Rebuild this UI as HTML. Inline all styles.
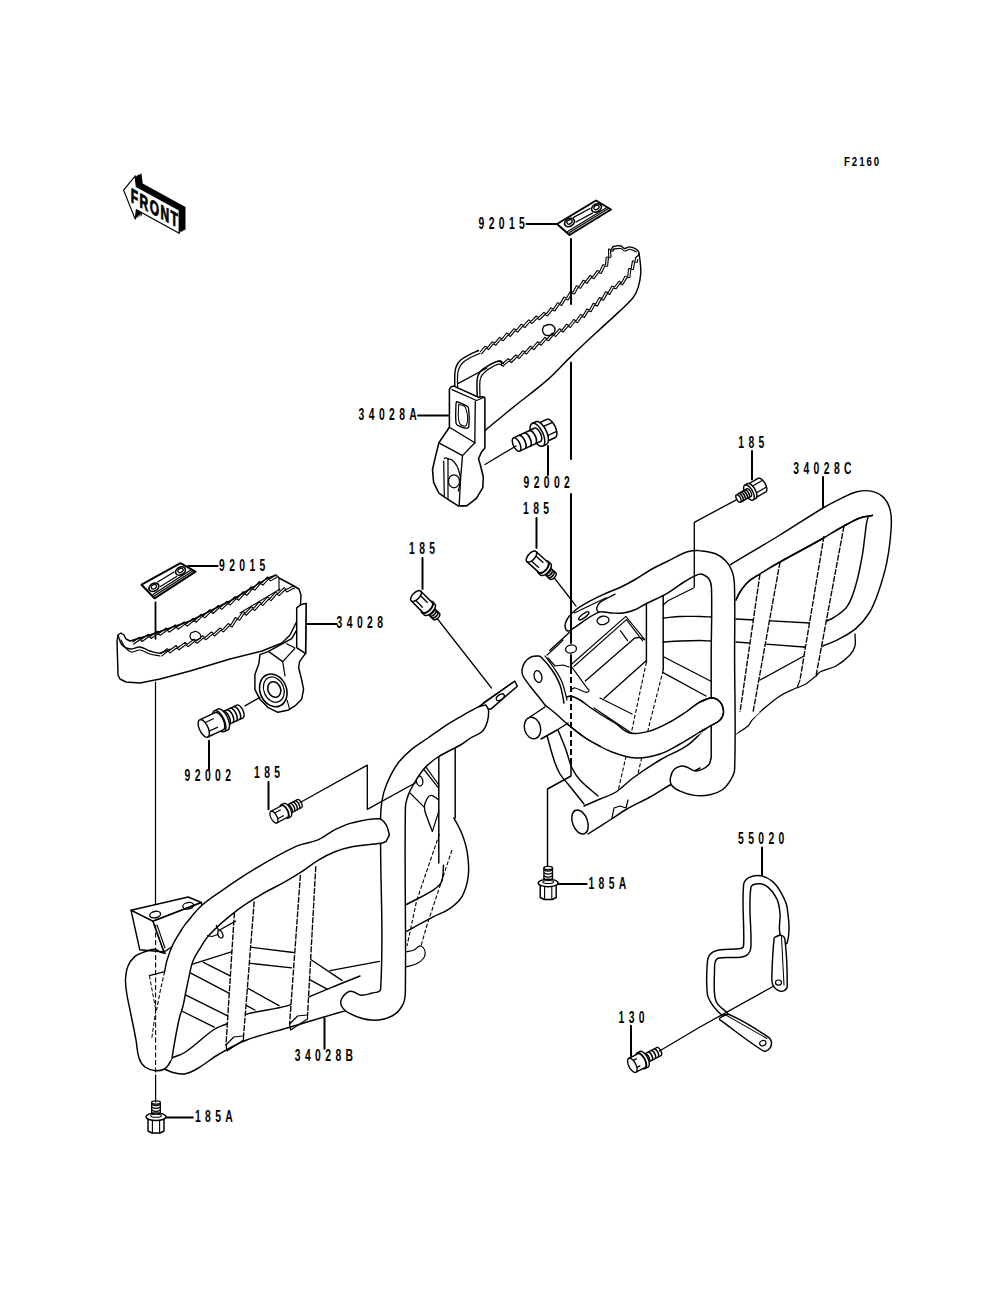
<!DOCTYPE html>
<html><head><meta charset="utf-8"><title>Parts diagram</title>
<style>
html,body{margin:0;padding:0;background:#fff;}
body{width:1000px;height:1308px;overflow:hidden;}
svg{display:block;}
.t{font-family:"Liberation Sans",sans-serif;font-weight:bold;font-size:15.6px;fill:#000;}
.s{font-family:"Liberation Sans",sans-serif;font-weight:bold;font-size:12.4px;fill:#000;}
</style></head>
<body>
<svg width="1000" height="1308" viewBox="0 0 1000 1308">
<rect width="1000" height="1308" fill="#fff"/>
<g id="front">
<polygon points="129.9,187.1 141.4,173.1 142.7,183.5 185.5,207 185.5,230.2 142.7,206.7 141.6,216.4" fill="#000"/>
<polygon points="128.6,187.7 140.1,173.7 141.4,184.1 184.2,207.6 184.2,230.8 141.4,207.3 140.3,217" fill="#000"/>
<polygon points="127.4,188.3 138.9,174.3 140.2,184.7 183,208.2 183,231.4 140.2,207.9 139.1,217.6" fill="#000"/>
<polygon points="126.1,188.9 137.6,174.9 138.9,185.3 181.7,208.8 181.7,232 138.9,208.5 137.8,218.2" fill="#000"/>
<polygon points="124.9,189.5 136.4,175.5 137.7,185.9 180.5,209.4 180.5,232.6 137.7,209.1 136.6,218.8" fill="#000"/>
<polygon points="123.6,190.1 135.1,176.1 136.4,186.5 179.2,210 179.2,233.2 136.4,209.7 135.3,219.4" fill="#fff" stroke="#000" stroke-width="1.2"/>
<text transform="translate(130.8,201.8) skewY(29) scale(0.6,1)" font-family="Liberation Sans, sans-serif" font-weight="bold" font-size="20" letter-spacing="2.4" fill="#000" stroke="#000" stroke-width="0.9">FRONT</text>
</g>
<path d="M480.1,352 L484.9,346.3 L487.4,347.6 L492.2,341.8 L494.6,343.1 L499.5,337.4 L501.9,338.8 L506.7,333 L509.2,334.4 L514,328.7 L516.5,330 L521.3,324.2 L523.7,325.5 L528.6,319.9 L531,321.3 L536.3,316 L538.5,317.6 L543.9,312.4 L546.3,313.8 L550.9,307.9 L553.5,309 L557.5,302.7 L560.1,303.6 L563.9,297.1 L566.6,298 L570.2,291.5 L572.9,292.3 L576.4,285.7 L579.1,286.5 L583.1,280.2 L585.6,281.3 L590.2,275.4 L592.7,276.7 L597.1,270.6 L599.7,271.6 L602.8,264.8 L605.6,265 L606.1,257.6 L608.7,256.7 L608.5,249 L611.2,249.5 L612.6,246.8" fill="none" stroke="#000" stroke-width="1.1" stroke-linejoin="round"/>
<path d="M481.4,354.1 L486.2,348.3 L488.6,349.6 L493.4,343.9 L495.9,345.2 L500.7,339.5 L503.1,340.8 L508,335.1 L510.4,336.4 L515.3,330.7 L517.7,332.1 L522.5,326.3 L525,327.6 L529.8,322 L532.2,323.4 L537.3,318.2 L539.5,319.8 L545,314.5 L547.5,315.9 L552.3,309.9 L554.9,310.9 L559.1,304.5 L561.7,305.4 L565.5,299 L568.1,299.9 L571.9,293.2 L574.5,294 L578,287.5 L580.7,288.3 L584.5,282.1 L587,283.3 L591.5,277.4 L594,278.7 L598.6,272.5 L601.2,273.4 L604.7,266.2 L607.6,266.2 L608.4,258.1 L611,257.1 L610.5,250.4 L612.8,251.3 L614.2,248.6" fill="none" stroke="#000" stroke-width="1.1" stroke-linejoin="round"/>
<path d="M502.6,363.5 L508.2,358.6 L510.4,360.3 L515.7,355 L518.1,356.4 L523,350.7 L525.4,351.9 L530.2,346.2 L532.7,347.5 L537.5,341.8 L539.9,343.1 L544.8,337.4 L547.2,338.8 L552.1,333.1 L554.5,334.4 L559.4,328.8 L561.9,330.1 L566.6,324.2 L569.1,325.5 L573.6,319.5 L576.1,320.7 L580.4,314.5 L583,315.5 L586.8,309.1 L589.5,310 L593.1,303.4 L595.7,304.1 L599.3,297.6 L602,298.4 L605.5,291.8 L608.2,292.6 L611.9,286.1 L614.5,287 L619.1,281.1 L621.4,282.7 L625,276.3 L627.8,276.3 L628.5,268.8 L631.2,268.4 L632.4,261.1 L635.2,261 L635.6,257.9" fill="none" stroke="#000" stroke-width="1.1" stroke-linejoin="round"/>
<path d="M503.5,365.7 L509.1,360.9 L511.4,362.5 L516.9,357.1 L519.3,358.5 L524.3,352.7 L526.7,354 L531.5,348.2 L533.9,349.6 L538.7,343.8 L541.2,345.2 L546,339.5 L548.5,340.8 L553.3,335.1 L555.8,336.5 L560.7,330.8 L563.1,332.1 L567.9,326.3 L570.4,327.5 L575,321.5 L577.5,322.7 L581.9,316.4 L584.5,317.4 L588.4,310.9 L591.1,311.7 L594.7,305.1 L597.4,305.9 L600.9,299.4 L603.6,300.2 L607.2,293.6 L609.8,294.4 L613.4,287.9 L616,288.8 L620.1,283.3 L622.4,284.9 L627.1,277.6 L629.9,277.5 L630.7,269.7 L633.4,269.4 L634.5,262.3 L637.2,262.3 L637.7,259.1" fill="none" stroke="#000" stroke-width="1.1" stroke-linejoin="round"/>
<path d="M612.6,246.8 C614.2,246.4 615.4,246 617,245.8 C618.5,245.7 619.7,245.5 621.1,246 C622.5,246.5 623,248.4 624.5,248.5 C626.4,248.7 627.7,246.7 629.6,246.8 C632.2,247 634.3,247.9 636.4,249.4 C637.8,250.4 639.2,251.8 639,253.6 C638.8,255.6 636.8,256.4 635.6,257.9" fill="none" stroke="#000" stroke-width="1.34" stroke-linecap="round" stroke-linejoin="round"/>
<path d="M612.6,249.3 C615.7,249 618.1,248.1 621.1,248.5 C622.6,248.7 623,250.9 624.5,251 C626.4,251.2 627.7,249.2 629.6,249.3 C632.2,249.5 634,251 636.4,251.9" fill="none" stroke="#000" stroke-width="1.12" stroke-linecap="round" stroke-linejoin="round"/>
<path d="M639,253.6 C639.5,257 640,259.6 640.3,263 C640.6,266.9 641.1,270.1 640.7,274 C640.3,279 639.6,282.9 638.1,287.6 C636.8,291.5 635.5,294.6 633,297.8 C628.7,303.2 624.4,306.6 619.4,311.4 C612.2,318.3 606.3,323.3 599,330.1 C589.2,339.2 581.5,346.3 571.8,355.6 C563.1,364 557.1,371.4 548,379.4 C536.2,389.8 526.2,396.7 514,406.6 C503.5,415.1 495.5,421.8 485.1,430.4" fill="none" stroke="#000" stroke-width="1.46" stroke-linecap="round" stroke-linejoin="round"/>
<path d="M478.5,350.5 C475.3,352 472.6,353 469.5,354.7 C466.1,356.5 463.3,357.7 460.4,360.3 C458.4,362.1 457.3,364.1 456.2,366.6 C455.2,369 455,371 454.8,373.6 C454.5,378.4 454.8,382.2 454.8,387" fill="none" stroke="#000" stroke-width="1.46" stroke-linecap="round" stroke-linejoin="round"/>
<path d="M480,353.2 C476.8,354.7 474.1,355.6 471,357.3 C468,358.9 465.5,360.2 463,362.5 C461.1,364.3 460,366.1 459,368.5 C458.1,370.7 457.8,372.6 457.6,375 C457.3,379.3 457.6,382.7 457.6,387" fill="none" stroke="#000" stroke-width="1.23" stroke-linecap="round" stroke-linejoin="round"/>
<path d="M503.5,363.5 C501.6,362.7 500.2,360.8 498.2,361.2 C493.8,362 490.8,364.1 487,366.4 C484.2,368 482,369.4 480,372 C478.3,374.2 477.5,376.4 477.2,379.2 C476.5,385.6 477.2,390.6 477.2,397" fill="none" stroke="#000" stroke-width="1.46" stroke-linecap="round" stroke-linejoin="round"/>
<path d="M503.5,366.3 C501.7,365.5 500.4,363.8 498.5,364.2 C494.5,365 491.9,367.1 488.5,369.3 C486.1,370.8 484.3,372.2 482.6,374.4 C481.2,376.3 480.3,378.1 480,380.5 C479.3,386.4 480,391.1 480,397" fill="none" stroke="#000" stroke-width="1.23" stroke-linecap="round" stroke-linejoin="round"/>
<path d="M498.2,361.2 C499,361.1 499.7,360.5 500.5,360.8 C501.3,361.1 501.8,361.7 502,362.5 C502.2,363.2 501.7,363.8 501.5,364.5" fill="none" stroke="#000" stroke-width="1.23" stroke-linecap="round" stroke-linejoin="round"/>
<path d="M458.3,383.4 L487,368" fill="none" stroke="#000" stroke-width="1.23" stroke-linecap="round" stroke-linejoin="round"/>
<path d="M544,326 C545.8,325.5 547.1,324.5 549,324.5 C550.7,324.5 552.2,324.8 553.5,326 C554.6,327 555.1,328.5 555,330 C554.9,331.6 554.2,332.9 553,334 C551.9,335 550.5,335.4 549,335.5 C547.3,335.6 545.8,335.6 544.5,334.5 C543.1,333.4 542.6,331.8 542.5,330 C542.4,328.5 543.5,327.4 544,326" fill="none" stroke="#000" stroke-width="1.34" stroke-linecap="round" stroke-linejoin="round"/>
<path d="M450.7,387.1 L453.9,386.1 L478.5,397.3 L483.3,396.8 L484.9,397.8 L484.9,448.1 L481.5,452 L478.5,458.8 L480.7,466.3 L483.3,477 L482.8,487.7 L476.4,498.4 L466.7,505.9 L458.2,505.9 L446.4,498.4 L438.9,493.1 L433.6,482.4 L432.5,469.5 L435.7,455.6 L438.9,442.8 L449.4,427.3 L449.4,389.3 Z" fill="#fff" stroke="#000" stroke-width="1.57" stroke-linejoin="round"/>
<path d="M452,389.6 L476.5,400.5 L483,397.8" fill="none" stroke="#000" stroke-width="1.23" stroke-linecap="round" stroke-linejoin="round"/>
<path d="M475.3,401.5 L474.8,442.8" fill="none" stroke="#000" stroke-width="1.34" stroke-linecap="round" stroke-linejoin="round"/>
<path d="M449.4,427.3 L474.8,442.8" fill="none" stroke="#000" stroke-width="1.34" stroke-linecap="round" stroke-linejoin="round"/>
<path d="M438.9,442.8 L462.5,455.6 L474.8,442.8" fill="none" stroke="#000" stroke-width="1.34" stroke-linecap="round" stroke-linejoin="round"/>
<path d="M462.5,455.6 L460.5,480 L459.2,505" fill="none" stroke="#000" stroke-width="1.34" stroke-linecap="round" stroke-linejoin="round"/>
<path d="M456.6,401.6 C460,403 462.8,403.9 466,405.6 C467.1,406.2 468.3,406.8 468.5,408 C469.4,414.4 469.5,419.5 468.9,426 C468.8,427.2 467.7,428.3 466.5,428.3 C463.4,428.2 461,427.1 458.2,425.7 C457.1,425.1 456.1,424.2 456,423 C455.3,416.2 455.8,410.8 456,404 C456,403.1 456.4,402.5 456.6,401.6" fill="none" stroke="#000" stroke-width="1.34" stroke-linecap="round" stroke-linejoin="round"/>
<path d="M458.6,404.2 C461.1,405.4 464.5,404.9 465.5,407.5 C467.7,413.4 468.8,419.1 466.5,425 C465.6,427.4 460.4,425.5 459.5,423 C457.1,416.7 458.9,411 458.6,404.2" fill="none" stroke="#000" stroke-width="1.01" stroke-linecap="round" stroke-linejoin="round"/>
<path d="M443.7,461 L444.3,496.3" fill="none" stroke="#000" stroke-width="1.23" stroke-linecap="round" stroke-linejoin="round"/>
<path d="M448,458.8 C449.4,459.2 450.8,459 452,460 C454.3,461.9 455.8,463.7 457.1,466.3 C458.9,469.9 459.7,473 460.3,477 C460.7,479.9 460.2,482.1 459.8,485 C459.5,487.2 458.8,488.8 458.2,491" fill="none" stroke="#000" stroke-width="1.23" stroke-linecap="round" stroke-linejoin="round"/>
<path d="M448,458.8 L448,498.4" fill="none" stroke="#000" stroke-width="1.23" stroke-linecap="round" stroke-linejoin="round"/>
<path d="M444.3,458.5 C444.9,458.2 445.3,457.7 446,457.8 C446.8,457.9 447.3,458.4 448,458.8" fill="none" stroke="#000" stroke-width="1.23" stroke-linecap="round" stroke-linejoin="round"/>
<ellipse cx="454" cy="481.3" rx="5.5" ry="6.5" transform="rotate(0 454 481.3)" fill="none" stroke="#000" stroke-width="1.23"/>
<path d="M557,224 L596,200.5 L611,209.5 L569.5,235 Z" fill="#fff" stroke="#000" stroke-width="2.02" stroke-linejoin="round"/>
<path d="M569.1,232.8 L608.1,208.8" fill="none" stroke="#000" stroke-width="1.23" stroke-linecap="round" stroke-linejoin="round"/>
<path d="M567.7,231.6 L606.8,207.6" fill="none" stroke="#000" stroke-width="1.23" stroke-linecap="round" stroke-linejoin="round"/>
<ellipse cx="569.5" cy="222.5" rx="5.2" ry="3.8" transform="rotate(-30 569.5 222.5)" fill="#fff" stroke="#000" stroke-width="1.68"/>
<ellipse cx="569.5" cy="221.9" rx="2.8" ry="2" transform="rotate(-30 569.5 221.9)" fill="none" stroke="#000" stroke-width="1.23"/>
<ellipse cx="596.5" cy="208" rx="5.2" ry="3.8" transform="rotate(-30 596.5 208)" fill="#fff" stroke="#000" stroke-width="1.68"/>
<ellipse cx="596.5" cy="207.4" rx="2.8" ry="2" transform="rotate(-30 596.5 207.4)" fill="none" stroke="#000" stroke-width="1.23"/>
<path d="M573.6,217.4 L590,208.5" fill="none" stroke="#000" stroke-width="1.23" stroke-linecap="round" stroke-linejoin="round"/>
<path d="M576,222 L592.4,213.1" fill="none" stroke="#000" stroke-width="1.23" stroke-linecap="round" stroke-linejoin="round"/>
<path d="M526.5,224 L557,224" fill="none" stroke="#000" stroke-width="2" stroke-linecap="round" stroke-linejoin="round"/>
<path d="M571,239 L571,304" fill="none" stroke="#000" stroke-width="2" stroke-linecap="round" stroke-linejoin="round"/>
<path d="M571,362.4 L571,459" fill="none" stroke="#000" stroke-width="2" stroke-linecap="round" stroke-linejoin="round"/>
<path d="M418,415.5 L448,415.5" fill="none" stroke="#000" stroke-width="2" stroke-linecap="round" stroke-linejoin="round"/>
<path d="M555.1,426.5 L555.8,428.1 L556.3,429.8 L556.7,431.3 L556.9,432.8 L556.9,434.2 L556.7,435.3 L556.4,436.3 L555.9,437 L555.3,437.5 L554.5,437.7 L553.6,437.6 L552.7,437.2 L551.7,436.6 L550.6,435.7 L549.6,434.6 L548.7,433.3 L547.8,431.9 L547,430.3 L546.3,428.7 L545.8,427.1 L545.4,425.6 L545.2,424.1 L545.2,422.7 L545.3,421.5 L545.7,420.6 L546.2,419.8 L546.8,419.4 L547.6,419.2 L548.5,419.3 L549.4,419.6 L550.4,420.3 L551.4,421.2 L552.5,422.3 L553.4,423.6 L554.3,425 L555.1,426.5 Z" fill="#fff" stroke="#000" stroke-width="1.5"/>
<path d="M545.3,442.2 L555.3,437.5 L546.8,419.4 L536.8,424 Z" fill="#fff" stroke="none"/>
<path d="M545.3,442.2 L555.3,437.5" fill="none" stroke="#000" stroke-width="1.5"/>
<path d="M546.8,419.4 L536.8,424" fill="none" stroke="#000" stroke-width="1.5"/>
<path d="M546.7,436 L556.7,431.3" fill="none" stroke="#000" stroke-width="1.35"/>
<path d="M542.5,426.9 L552.5,422.3" fill="none" stroke="#000" stroke-width="1.35"/>
<path d="M545.1,431.2 L545.8,432.8 L546.3,434.4 L546.7,436 L546.9,437.5 L546.9,438.8 L546.8,440 L546.4,441 L545.9,441.7 L545.3,442.2 L544.5,442.3 L543.6,442.3 L542.7,441.9 L541.7,441.3 L540.7,440.4 L539.7,439.3 L538.7,438 L537.8,436.5 L537,435 L536.3,433.4 L535.8,431.8 L535.4,430.2 L535.2,428.7 L535.2,427.4 L535.4,426.2 L535.7,425.2 L536.2,424.5 L536.8,424 L537.6,423.8 L538.5,423.9 L539.4,424.3 L540.5,424.9 L541.5,425.8 L542.5,426.9 L543.5,428.2 L544.4,429.6 L545.1,431.2 Z" fill="#fff" stroke="#000" stroke-width="1.5"/>
<path d="M546.2,430.7 L547,432.7 L547.7,434.7 L548.1,436.7 L548.4,438.6 L548.4,440.2 L548.2,441.7 L547.8,442.9 L547.2,443.8 L546.4,444.4 L545.4,444.7 L544.3,444.5 L543.1,444.1 L541.8,443.3 L540.6,442.2 L539.3,440.8 L538.1,439.2 L537,437.4 L536,435.5 L535.1,433.5 L534.5,431.4 L534,429.5 L533.8,427.6 L533.7,425.9 L533.9,424.5 L534.4,423.3 L535,422.3 L535.8,421.8 L536.8,421.5 L537.8,421.6 L539,422.1 L540.3,422.9 L541.6,424 L542.8,425.4 L544.1,427 L545.2,428.8 L546.2,430.7 Z" fill="#fff" stroke="#000" stroke-width="1.5"/>
<path d="M542.7,446.1 L546.4,444.4 L535.8,421.8 L532.2,423.5 Z" fill="#fff" stroke="none"/>
<path d="M542.7,446.1 L546.4,444.4" fill="none" stroke="#000" stroke-width="1.5"/>
<path d="M535.8,421.8 L532.2,423.5" fill="none" stroke="#000" stroke-width="1.5"/>
<path d="M542.5,432.4 L543.4,434.4 L544,436.4 L544.5,438.4 L544.7,440.2 L544.8,441.9 L544.6,443.4 L544.2,444.6 L543.5,445.5 L542.7,446.1 L541.8,446.3 L540.7,446.2 L539.5,445.8 L538.2,445 L536.9,443.9 L535.7,442.5 L534.5,440.9 L533.3,439.1 L532.3,437.2 L531.5,435.2 L530.8,433.1 L530.4,431.2 L530.1,429.3 L530.1,427.6 L530.3,426.2 L530.7,424.9 L531.4,424 L532.2,423.5 L533.1,423.2 L534.2,423.3 L535.4,423.8 L536.7,424.6 L538,425.7 L539.2,427.1 L540.4,428.7 L541.5,430.5 L542.5,432.4 Z" fill="#fff" stroke="#000" stroke-width="1.5"/>
<path d="M540.4,433.4 L540.9,434.6 L541.3,435.7 L541.6,436.9 L541.7,438 L541.7,439 L541.6,439.8 L541.4,440.5 L541,441.1 L540.5,441.4 L540,441.5 L539.3,441.5 L538.6,441.2 L537.9,440.7 L537.1,440.1 L536.4,439.3 L535.7,438.3 L535,437.3 L534.5,436.2 L534,435 L533.6,433.8 L533.3,432.7 L533.2,431.6 L533.2,430.6 L533.3,429.7 L533.5,429 L533.9,428.5 L534.4,428.2 L534.9,428 L535.6,428.1 L536.3,428.4 L537,428.8 L537.7,429.5 L538.5,430.3 L539.2,431.2 L539.8,432.3 L540.4,433.4 Z" fill="#fff" stroke="#000" stroke-width="1.5"/>
<path d="M519.7,451.1 L540.5,441.4 L534.4,428.2 L513.5,437.9 Z" fill="#fff" stroke="none"/>
<path d="M519.7,451.1 L540.5,441.4" fill="none" stroke="#000" stroke-width="1.5"/>
<path d="M534.4,428.2 L513.5,437.9" fill="none" stroke="#000" stroke-width="1.5"/>
<path d="M518.7,435.5 L519.4,435.3 L520.1,435.4 L520.9,435.8 L521.7,436.4 L522.6,437.2 L523.4,438.3 L524.1,439.4 L524.8,440.7 L525.3,442 L525.7,443.3 L526,444.6 L526.1,445.8 L526,446.8 L525.8,447.7 L525.4,448.3 L524.9,448.7" fill="none" stroke="#000" stroke-width="1.6500000000000001"/>
<path d="M523.9,433 L524.6,432.9 L525.3,433 L526.1,433.4 L526.9,434 L527.8,434.8 L528.6,435.8 L529.3,437 L530,438.3 L530.5,439.6 L531,440.9 L531.2,442.2 L531.3,443.3 L531.2,444.4 L531,445.2 L530.6,445.9 L530.1,446.3" fill="none" stroke="#000" stroke-width="1.6500000000000001"/>
<path d="M529.1,430.6 L529.8,430.5 L530.5,430.6 L531.3,430.9 L532.2,431.5 L533,432.4 L533.8,433.4 L534.6,434.6 L535.2,435.8 L535.8,437.1 L536.2,438.5 L536.4,439.7 L536.5,440.9 L536.5,441.9 L536.2,442.8 L535.8,443.4 L535.3,443.8" fill="none" stroke="#000" stroke-width="1.6500000000000001"/>
<path d="M519.6,443.1 L520.1,444.3 L520.5,445.5 L520.7,446.6 L520.9,447.7 L520.9,448.7 L520.8,449.5 L520.5,450.2 L520.2,450.8 L519.7,451.1 L519.1,451.3 L518.5,451.2 L517.8,450.9 L517,450.5 L516.3,449.8 L515.6,449 L514.9,448.1 L514.2,447 L513.6,445.9 L513.1,444.7 L512.7,443.5 L512.5,442.4 L512.3,441.3 L512.3,440.3 L512.4,439.5 L512.7,438.8 L513,438.2 L513.5,437.9 L514.1,437.7 L514.7,437.8 L515.4,438.1 L516.2,438.5 L516.9,439.2 L517.6,440 L518.3,440.9 L519,442 L519.6,443.1 Z" fill="#fff" stroke="#000" stroke-width="1.5"/>
<path d="M516,446 L485,464.5" fill="none" stroke="#000" stroke-width="1.34" stroke-linecap="round" stroke-linejoin="round"/>
<path d="M548,446 L548,475" fill="none" stroke="#000" stroke-width="2" stroke-linecap="round" stroke-linejoin="round"/>
<path d="M730.6,564.6 C748.4,553.9 762.3,545.8 780,535 C795.6,525.5 807.3,517.3 823,508 C830.7,503.4 837,500.4 845,496.5 C848.8,494.6 851.8,493 856,492 C860.6,490.9 864.5,490.1 869.2,490.9 C874.3,491.7 878.6,493 882.4,496.4 C886.5,500.1 888.6,504.3 890.1,509.6 C891.8,515.7 891.6,520.9 891.2,527.2 C890.4,539.9 889.3,549.9 886.8,562.4 C884.5,573.7 881.8,582.3 878,593.2 C875.4,600.6 873.3,606.4 869.2,613 C865.3,619.2 861.5,623.6 856,628.4 C850.3,633.3 845,635.9 838.4,639.4 C833.1,642.2 828.5,643.6 823,646" fill="none" stroke="#000" stroke-width="1.46" stroke-linecap="round" stroke-linejoin="round"/>
<path d="M736,600 C737.4,597.1 738.2,594.7 740,592 C742.6,588.2 744.6,585.1 748,582 C751.9,578.5 755.6,576.8 760,574 C767.1,569.5 772.7,566.1 780,562 C794.3,553.9 805.7,548.1 820,540 C828.7,535.1 835.2,530.8 844,526 C849.6,522.9 854,520.2 860,518 C864.1,516.5 867.7,516.5 872,515.6" fill="none" stroke="#000" stroke-width="1.46" stroke-linecap="round" stroke-linejoin="round"/>
<path d="M872.5,515.1 C870.9,515.9 868.7,515.6 868.1,517.3 C865.8,523.4 866,528.6 865,535 C864,541.7 863.8,547 862.6,553.6 C860.6,564.8 859.2,573.5 856,584.4 C853.6,592.6 851.9,599.3 847.2,606.4 C843.8,611.5 839.1,613.9 834,617.4 C831.1,619.4 828.4,620.2 825.2,621.8" fill="none" stroke="#000" stroke-width="1.46" stroke-linecap="round" stroke-linejoin="round"/>
<path d="M855,634 C855,638.3 856,641.8 855,646 C854.1,649.6 852.6,652.3 850,655 C845.6,659.6 841.6,662.8 836,666 C830.6,669 825.5,669.2 820,672 C818.2,672.9 817.4,674.6 816,676" fill="none" stroke="#000" stroke-width="1.34" stroke-linecap="round" stroke-linejoin="round"/>
<path d="M796,688 C790.2,690.9 785.4,692.4 780,696 C772.3,701.1 767,706 760,712 C756.9,714.7 754.7,716.9 752,720 C750.3,722 750,724.3 748,726 C744.1,729.4 740.3,731.1 736,734" fill="none" stroke="#000" stroke-width="1.34" stroke-linecap="round" stroke-linejoin="round"/>
<path d="M736,619 L810,623" fill="none" stroke="#000" stroke-width="1.34" stroke-linecap="round" stroke-linejoin="round"/>
<path d="M810,623 L828,620" fill="none" stroke="#000" stroke-width="1.34" stroke-linecap="round" stroke-linejoin="round"/>
<path d="M736,642 L804,647" fill="none" stroke="#000" stroke-width="1.34" stroke-linecap="round" stroke-linejoin="round"/>
<path d="M804,647 L822,647" fill="none" stroke="#000" stroke-width="1.34" stroke-linecap="round" stroke-linejoin="round"/>
<path d="M760,680 L804,656" fill="none" stroke="#000" stroke-width="1.34" stroke-linecap="round" stroke-linejoin="round"/>
<path d="M760,574 L780,562 L752,718 L738,726 Z" fill="#fff" stroke="#000" stroke-width="0.0" stroke-linejoin="round"/>
<path d="M824,536 L844,526 L816,676 L800,680 Z" fill="#fff" stroke="#000" stroke-width="0.0" stroke-linejoin="round"/>
<path d="M760,574 L738,726" fill="none" stroke="#000" stroke-width="1.35" stroke-dasharray="6,1.3"/>
<path d="M780,562 L752,718" fill="none" stroke="#000" stroke-width="1.35" stroke-dasharray="6,1.3"/>
<path d="M824,536 L800,680" fill="none" stroke="#000" stroke-width="1.35" stroke-dasharray="6,1.3"/>
<path d="M844,526 L816,676" fill="none" stroke="#000" stroke-width="1.35" stroke-dasharray="6,1.3"/>
<path d="M736,600 C737.4,597.1 738.2,594.7 740,592 C742.6,588.2 744.6,585.1 748,582 C751.9,578.5 755.6,576.8 760,574 C767.1,569.5 772.7,566.1 780,562 C794.3,553.9 805.7,548.1 820,540 C828.7,535.1 835.2,530.8 844,526 C849.6,522.9 854,520.2 860,518 C864.1,516.5 867.7,516.5 872,515.6" fill="none" stroke="#000" stroke-width="1.46" stroke-linecap="round" stroke-linejoin="round"/>
<path d="M738,726 L744,724 L752,718" fill="none" stroke="#000" stroke-width="1.12" stroke-linecap="round" stroke-linejoin="round"/>
<path d="M800,680 L797,688 L806,684 L816,676" fill="none" stroke="#000" stroke-width="1.12" stroke-linecap="round" stroke-linejoin="round"/>
<path d="M585.3,681.1 L634.8,637.9 L640,637.5 L644.7,639.7" fill="none" stroke="#000" stroke-width="1.34" stroke-linecap="round" stroke-linejoin="round"/>
<path d="M604.2,698.2 L645.6,661.3" fill="none" stroke="#000" stroke-width="1.34" stroke-linecap="round" stroke-linejoin="round"/>
<path d="M620.4,630.7 L627.6,640.6" fill="none" stroke="#000" stroke-width="1.23" stroke-linecap="round" stroke-linejoin="round"/>
<path d="M664,657 L710.5,681" fill="none" stroke="#000" stroke-width="1.34" stroke-linecap="round" stroke-linejoin="round"/>
<path d="M662.6,672.4 L706,696" fill="none" stroke="#000" stroke-width="1.34" stroke-linecap="round" stroke-linejoin="round"/>
<path d="M663,618 C669.1,617.5 673.9,616.7 680,616.5 C687.2,616.2 692.8,616.4 700,616.5 C704,616.6 707,616.8 711,617" fill="none" stroke="#000" stroke-width="1.34" stroke-linecap="round" stroke-linejoin="round"/>
<path d="M663,642 C669.1,641.6 673.9,641.2 680,641 C687.2,640.7 692.8,640.5 700,640.5 C704,640.5 707,640.8 711,641" fill="none" stroke="#000" stroke-width="1.34" stroke-linecap="round" stroke-linejoin="round"/>
<path d="M663,605 L668,600.8 L693.6,588" fill="none" stroke="#000" stroke-width="1.23" stroke-linecap="round" stroke-linejoin="round"/>
<path d="M646.4,604 L646.4,662" fill="none" stroke="#000" stroke-width="1.46" stroke-linecap="round" stroke-linejoin="round"/>
<path d="M663.2,594.4 L663.2,670" fill="none" stroke="#000" stroke-width="1.46" stroke-linecap="round" stroke-linejoin="round"/>
<path d="M646.4,662 L631,734.4 L616.5,798" fill="none" stroke="#000" stroke-width="1.1" stroke-dasharray="4,2"/>
<path d="M663.2,670 L649.5,724 L637,778" fill="none" stroke="#000" stroke-width="1.1" stroke-dasharray="4,2"/>
<path d="M584,806 L600,799 L616,792 L633,778 L660,760 L687,745.6 L704,730 L736,712 L760,712 L736,734 L700,768 L700,768 L670,785 L650,797 L627,809 L610,820 L588,834 Z" fill="#fff" stroke="#000" stroke-width="0.0" stroke-linejoin="round"/>
<path d="M584,806 C589.8,803.5 594.2,801.5 600,799 C605.8,796.5 610.7,795.4 616,792 C622.7,787.7 626.6,782.7 633,778 C642.4,771.1 650,766 660,760 C669.4,754.3 677.9,751.8 687,745.6 C693.9,740.9 697.9,735.6 704,730" fill="none" stroke="#000" stroke-width="1.46" stroke-linecap="round" stroke-linejoin="round"/>
<path d="M588,834 C595.9,829 602.1,825.1 610,820 C616.1,816.1 620.7,812.6 627,809 C635.1,804.3 641.8,801.6 650,797 C657.3,792.9 662.7,789.2 670,785 C680.7,778.8 689.2,774.1 700,768" fill="none" stroke="#000" stroke-width="1.46" stroke-linecap="round" stroke-linejoin="round"/>
<ellipse cx="580" cy="822" rx="7.5" ry="12.5" transform="rotate(-20 580 822)" fill="#fff" stroke="#000" stroke-width="1.46"/>
<path d="M546,732 C548.9,742.1 550.7,750.1 554,760 C555.7,765.2 557.2,769.3 560,774 C562.3,778 565.1,780.4 568,784 C573.8,791.2 578.2,796.8 584,804" fill="none" stroke="#000" stroke-width="1.46" stroke-linecap="round" stroke-linejoin="round"/>
<path d="M558,730 C560.9,737.2 563.3,742.7 566,750 C568.4,756.4 569.1,761.8 572,768 C574.2,772.7 576.5,776.2 580,780 C585.9,786.4 591.5,790.2 598,796" fill="none" stroke="#000" stroke-width="1.46" stroke-linecap="round" stroke-linejoin="round"/>
<path d="M600,698 L632,714" fill="none" stroke="#000" stroke-width="1.23" stroke-linecap="round" stroke-linejoin="round"/>
<path d="M594,708 L630,732" fill="none" stroke="#000" stroke-width="1.23" stroke-linecap="round" stroke-linejoin="round"/>
<path d="M612,818 L614,808 L620,806 L626,808 L628,800" fill="none" stroke="#000" stroke-width="1.23" stroke-linecap="round" stroke-linejoin="round"/>
<path d="M545,705 C544.2,709.5 551.5,710 555,713 C558.7,716.1 561.4,718.8 565,722 C567.1,723.9 568.8,725.3 571,727 C576.7,731.4 580.9,735.3 587,739 C595.7,744.3 602.5,748.3 612,752 C620.3,755.2 627.1,757.6 636,758 C644.8,758.4 651.7,756.7 660,754 C667.7,751.6 672.8,747.6 680,744 C687.2,740.4 693,738 700,734 C703.8,731.8 706.4,729.5 710,727 C713.6,724.5 717.1,723.3 720,720 C722.1,717.7 723.5,715.1 723.5,712 C723.5,708.2 722.4,704.9 720,702 C718,699.5 715.2,698 712,698 C707.4,698 704,699.8 700,702 C694.5,704.9 691.2,708.6 686,712 C680.3,715.8 676,718.8 670,722 C663,725.7 657.6,728.9 650,731 C643,732.9 637.1,734.6 630,733 C623.7,731.6 620.5,726.5 615,723 C609.7,719.6 605.3,717.3 600,714 C596.7,711.9 594.2,710.2 591,708 C587,705.2 584.2,702.5 580,700 C577,698.2 573.9,698 571,696 C566.6,692.9 565.1,684.2 560,686 C551.8,688.9 546.6,696.4 545,705 Z" fill="#fff" stroke="#000" stroke-width="0.0" stroke-linejoin="round"/>
<path d="M567,697 C568.4,696.6 569.6,695.7 571,696 C574.5,696.8 577,698.2 580,700 C584.2,702.5 587,705.2 591,708 C594.2,710.2 596.7,711.9 600,714 C605.3,717.3 609.7,719.6 615,723 C620.5,726.5 623.7,731.6 630,733 C637.1,734.6 643,732.9 650,731 C657.6,728.9 663,725.7 670,722 C676,718.8 680.3,715.8 686,712 C691.2,708.6 694.5,704.9 700,702 C704,699.8 707.4,698 712,698 C715.2,698 718,699.5 720,702 C722.4,704.9 723.5,708.2 723.5,712 C723.5,715.1 722.2,717.7 720,720 C717.1,723 713.6,723.8 710,726 C706.4,728.2 703.6,729.8 700,732 C692.8,736.3 687.4,740 680,744 C672.9,747.9 667.7,751.6 660,754 C651.7,756.7 644.8,758.4 636,758 C627.1,757.6 620.3,755.2 612,752 C602.5,748.3 595.7,744.3 587,739 C580.9,735.3 576.7,731.4 571,727 C568.8,725.3 567.1,723.9 565,722 C561.4,718.8 558.7,716.1 555,713 C551.5,710 548.6,707.9 545,705" fill="none" stroke="#000" stroke-width="1.46" stroke-linecap="round" stroke-linejoin="round"/>
<path d="M571,629.8 C569.9,630.4 569,631.3 567.8,631 C566.5,630.6 565.8,629.5 565.4,628.2 C564.9,626.6 564.9,625.1 565.4,623.4 C566.1,620.9 567,619 568.6,617 C570.8,614.1 572.9,612.1 575.8,609.8 C579.6,606.8 582.8,604.9 587,602.6 C592.6,599.5 597.1,597.3 603,594.6 C609,591.8 614,590.3 620,587.5 C625.9,584.7 630.4,582.3 636,579 C641.9,575.6 646.1,572.3 652,569 C657.6,565.8 662.2,563.9 668,561 C673.8,558.1 678.1,555.5 684,553 C686.7,551.8 689.1,551.3 692,550.8 C694.5,550.4 696.6,550.3 699.1,550.6 C705.1,551.3 710,551.5 715.6,553.7 C719.8,555.3 722.8,557.7 725.9,561 C728.9,564.2 730.6,567.2 732.1,571.3 C733.7,575.6 734.3,579.2 734.4,583.7 C735.2,609 734.6,628.7 734.6,654 C734.6,695.6 736,728 734.6,769.6 C734.5,773.8 732.6,776.9 730.4,780.4 C728,784.3 725.8,787.4 722,790 C718.2,792.7 714.6,793.9 710,794.8 C704.5,795.9 700,796.1 694.4,795.4 C689,794.8 684.9,793.4 680,791.2 C676.6,789.7 673.8,788.2 671.6,785.2 C670.1,783.1 670,780.6 670.4,778 C670.9,774.7 671.8,772 674,769.6 C675.9,767.4 678.3,766.5 681.2,766 C683.4,765.6 685.1,766.4 687.2,767.2 C689.9,768.2 691.5,770.3 694.4,770.8 C697,771.2 699.2,770.6 701.6,769.6 C704.5,768.4 706.8,767.1 708.8,764.8 C710.3,763.1 710.1,760.9 711,758.8 C711,758.7 711.2,758.9 711.2,758.8 C711.3,737.6 711.2,721.2 711.2,700 C711.2,683.4 711.2,670.6 711.2,654 C711.3,630.2 712.2,611.8 711.5,588 C711.4,584.6 710.8,581.8 709,579 C707.6,576.7 705.5,575.6 703,574.5 C701.5,573.8 699.9,573.8 698.4,574.4 C692.9,576.6 689,579 684,582 C678.1,585.6 674,589.3 668,592.8 C660.2,597.3 653.6,599.9 645.6,604 C641.7,606 639,608.2 635,609.8 C630.8,611.5 627.4,612.4 623,613 C618.7,613.6 615.3,613.1 611,613 C606.7,612.9 603,610.5 599,612.2 C588,616.8 581.2,623.7 571,629.8 Z" fill="#fff" stroke="#000" stroke-width="1.46" stroke-linejoin="round"/>
<path d="M615,594.2 C609.5,597.2 604.8,598.8 599.8,602.6 C598,604 597.3,606 596.6,608.2 C596.3,609.1 596.9,609.8 597.4,610.6 C597.8,611.3 598.4,611.6 599,612.2" fill="none" stroke="#000" stroke-width="1.34" stroke-linecap="round" stroke-linejoin="round"/>
<path d="M574.2,613 L606.2,597.8" fill="none" stroke="#000" stroke-width="1.12" stroke-linecap="round" stroke-linejoin="round"/>
<ellipse cx="583.8" cy="615.8" rx="6.2" ry="1.9" transform="rotate(-37 583.8 615.8)" fill="none" stroke="#000" stroke-width="1.46"/>
<path d="M700,702 C704.3,700.6 707.4,698 712,698 C715.2,698 718,699.5 720,702 C722.4,704.9 723.5,708.2 723.5,712 C723.5,715.1 722.2,717.7 720,720 C717.1,723 713.6,723.8 710,726 C706.4,728.2 703.6,729.8 700,732" fill="#fff" stroke="#000" stroke-width="1.46" stroke-linecap="round" stroke-linejoin="round"/>
<path d="M705,700 L713,699 L720,703 L723,712 L719,720 L708,727 L703,730 Z" fill="#fff" stroke="none"/>
<path d="M700,702 C704.3,700.6 707.4,698 712,698 C715.2,698 718,699.5 720,702 C722.4,704.9 723.5,708.2 723.5,712 C723.5,715.1 722.2,717.7 720,720 C717.1,723 713.6,723.8 710,726 C706.4,728.2 703.6,729.8 700,732" fill="none" stroke="#000" stroke-width="1.46" stroke-linecap="round" stroke-linejoin="round"/>
<path d="M530,717 L545,707 L560,714 L569,723 L557,730 L541,739 Z" fill="#fff" stroke="#000" stroke-width="0.0" stroke-linejoin="round"/>
<path d="M530,717 L545,707" fill="none" stroke="#000" stroke-width="1.46" stroke-linecap="round" stroke-linejoin="round"/>
<path d="M541,739 L557,730 L568,723" fill="none" stroke="#000" stroke-width="1.46" stroke-linecap="round" stroke-linejoin="round"/>
<ellipse cx="532.5" cy="728" rx="8" ry="11" transform="rotate(-15 532.5 728)" fill="#fff" stroke="#000" stroke-width="1.46"/>
<path d="M522,670 C522.4,667 523.2,664.5 525,662 C526.6,659.7 528.4,658.2 531,657 C533.3,655.9 535.5,656 538,656 C539.1,656 540.2,656.2 541,657 C545.3,661.3 548.6,664.9 552,670 C555.4,675.1 557.9,679.2 560,685 C562.3,691.2 562.8,696.5 564,703 C564.6,706.2 567.2,709.6 565,712 C562.6,714.7 558.4,714.2 555,713 C550.6,711.5 548.3,708.3 545,705 C542.1,702.1 540.5,699.2 538,696 C535.1,692.4 532.8,689.7 530,686 C527.4,682.5 525,679.9 523,676 C522,674 521.7,672.2 522,670 Z" fill="#fff" stroke="#000" stroke-width="0.0" stroke-linejoin="round"/>
<path d="M545,705 C542.5,701.8 540.5,699.2 538,696 C535.1,692.4 532.8,689.7 530,686 C527.4,682.5 525,679.9 523,676 C522,674 521.7,672.2 522,670 C522.4,667 523.2,664.5 525,662 C526.6,659.7 528.4,658.2 531,657 C533.3,655.9 535.5,656 538,656 C539.1,656 540.2,656.2 541,657 C545.3,661.3 548.6,664.9 552,670 C555.4,675.1 557.9,679.2 560,685 C562.3,691.2 562.6,696.5 564,703" fill="none" stroke="#000" stroke-width="1.46" stroke-linecap="round" stroke-linejoin="round"/>
<path d="M545,656 C548.2,660.3 551,663.5 554,668 C557.2,672.9 559.8,676.6 562,682 C564.5,688.2 565.2,693.5 567,700" fill="none" stroke="#000" stroke-width="1.23" stroke-linecap="round" stroke-linejoin="round"/>
<path d="M545,705 C548.6,707.9 551.5,710 555,713 C558.7,716.1 561.4,718.8 565,722 C567.1,723.9 568.8,725.3 571,727 C576.7,731.4 581,735.1 587,739 C591.4,741.9 595.3,743.5 600,746" fill="none" stroke="#000" stroke-width="1.46" stroke-linecap="round" stroke-linejoin="round"/>
<ellipse cx="538" cy="676.5" rx="3.8" ry="6" transform="rotate(-15 538 676.5)" fill="none" stroke="#000" stroke-width="1.34"/>
<path d="M549.6,650.4 L571,631" fill="none" stroke="#000" stroke-width="1.34" stroke-linecap="round" stroke-linejoin="round"/>
<path d="M547,655 L557,646 L563,640" fill="none" stroke="#000" stroke-width="1.23" stroke-linecap="round" stroke-linejoin="round"/>
<ellipse cx="603" cy="620.4" rx="6" ry="4.2" transform="rotate(-10 603 620.4)" fill="none" stroke="#000" stroke-width="1.34"/>
<ellipse cx="571" cy="649" rx="5.5" ry="4" transform="rotate(-10 571 649)" fill="none" stroke="#000" stroke-width="1.34"/>
<path d="M571.8,664 L625.8,616.3 L644.7,639.7" fill="none" stroke="#000" stroke-width="1.12" stroke-linecap="round" stroke-linejoin="round"/>
<path d="M573.8,666.5 L626.5,619.6 L642.6,640.8" fill="none" stroke="#000" stroke-width="1.12" stroke-linecap="round" stroke-linejoin="round"/>
<path d="M571,666 C576.8,673.9 581.3,680.1 587,688 C587.8,689.1 589.6,689.8 589,691 C588.3,692.3 586.5,692.3 585,692 C581.2,691.2 578.8,688.5 575,688 C573.4,687.8 572.4,689.3 571,690" fill="none" stroke="#000" stroke-width="1.23" stroke-linecap="round" stroke-linejoin="round"/>
<path d="M548,658 L555,666 L563,665 L569,667" fill="none" stroke="#000" stroke-width="1.23" stroke-linecap="round" stroke-linejoin="round"/>
<path d="M737.2,499.3 L694.3,522.4 L694.3,587" fill="none" stroke="#000" stroke-width="1.34" stroke-linecap="round" stroke-linejoin="round"/>
<path d="M752,450.9 L752,479.5" fill="none" stroke="#000" stroke-width="2" stroke-linecap="round" stroke-linejoin="round"/>
<path d="M823,477 L823,507" fill="none" stroke="#000" stroke-width="2" stroke-linecap="round" stroke-linejoin="round"/>
<path d="M571,494 L571,643" fill="none" stroke="#000" stroke-width="2" stroke-linecap="round" stroke-linejoin="round"/>
<path d="M571,655 L571,668" fill="none" stroke="#000" stroke-width="2" stroke-linecap="round" stroke-linejoin="round"/>
<path d="M571,668 L571,764" fill="none" stroke="#000" stroke-width="2" stroke-dasharray="6,3"/>
<path d="M571,764 L571,776 L547.5,789 L547.5,868" fill="none" stroke="#000" stroke-width="1.46" stroke-linecap="round" stroke-linejoin="round"/>
<path d="M296.7,607.9 L300.6,604.9 L306.1,603.4 L305.6,653.6 L304.6,654.6 L299.6,661.6 L298.6,667.5 L301.6,679.5 L303.6,689.4 L301.6,699.3 L295.7,705.3 L287.7,710.3 L277.8,712.3 L267.8,707.3 L259.9,699.3 L254.9,689.4 L254.9,674.5 L258.9,663.6 L259.9,654.6 L268,651.6 L282.7,643.7 L291.7,638.7 L296.7,630 Z" fill="#fff" stroke="#000" stroke-width="1.46" stroke-linejoin="round"/>
<path d="M268.8,651.6 L282.7,661.6 L294.7,648.6" fill="none" stroke="#000" stroke-width="1.34" stroke-linecap="round" stroke-linejoin="round"/>
<path d="M282.7,661.6 L285,676" fill="none" stroke="#000" stroke-width="1.23" stroke-linecap="round" stroke-linejoin="round"/>
<path d="M286.7,643.7 L294.7,647.7" fill="none" stroke="#000" stroke-width="1.23" stroke-linecap="round" stroke-linejoin="round"/>
<ellipse cx="273.3" cy="690.4" rx="13.2" ry="16.8" transform="rotate(-22 273.3 690.4)" fill="#fff" stroke="#000" stroke-width="1.57"/>
<ellipse cx="273.8" cy="689.6" rx="10" ry="13" transform="rotate(-22 273.8 689.6)" fill="none" stroke="#000" stroke-width="1.23"/>
<ellipse cx="274.3" cy="689.5" rx="6.3" ry="8" transform="rotate(-22 274.3 689.5)" fill="none" stroke="#000" stroke-width="1.57"/>
<path d="M289.7,709.3 L287,700" fill="none" stroke="#000" stroke-width="1.12" stroke-linecap="round" stroke-linejoin="round"/>
<path d="M118,635 L121,633 L124,635 L126,639 L130,641 L150,635 L170,628 L190,621 L210,611 L230,601 L250,589 L266,579 L276,575 L279,578 L294,586 L299,589 L301,595 L300,615 L294,627 L290,635 L282,643 L262,651 L230,659 L190,671 L160,679 L140,683 L126,682 L120,679 L118,675 L117,641 Z" fill="#fff" stroke="#000" stroke-width="1.46" stroke-linejoin="round"/>
<path d="M132.4,642.2 L139.3,637.2 L141.4,639.2 L148.3,634.2 L150.4,636.2 L157.2,631.1 L159.4,633.1 L166.2,628 L168.4,629.9 L175.2,624.9 L177.4,626.9 L184.2,621.9 L186.4,623.8 L192.9,618.3 L195.2,620.1 L201.3,614.1 L203.7,615.7 L209.8,609.7 L212.2,611.4 L218.3,605.5 L220.7,607.2 L226.8,601.3 L229.2,602.9 L235,596.7 L237.5,598.2 L243.1,591.7 L245.6,593.2 L251.2,586.7 L253.7,588.2 L259.1,581.6 L261.7,583 L267.6,576.8 L269.8,578.7 L276,575" fill="none" stroke="#000" stroke-width="1.1" stroke-linejoin="round"/>
<path d="M133.2,644.5 L140,639.5 L142.2,641.5 L149.1,636.5 L151.2,638.5 L158,633.4 L160.2,635.4 L167,630.2 L169.2,632.2 L176,627.2 L178.1,629.2 L185,624.1 L187.3,626.1 L193.9,620.5 L196.3,622.2 L202.4,616.2 L204.9,617.8 L210.8,611.8 L213.2,613.5 L219.4,607.7 L221.8,609.4 L227.9,603.4 L230.4,605 L236.2,598.7 L238.8,600.2 L244.4,593.8 L246.9,595.3 L252.4,588.8 L255,590.2 L260.4,583.6 L263,585.1 L268.5,579 L270.7,580.9 L276.9,577.2" fill="none" stroke="#000" stroke-width="1.1" stroke-linejoin="round"/>
<path d="M160.5,654.2 L167,648.7 L169.3,650.7 L176,645.5 L178.2,647.5 L185,642.4 L187.2,644.4 L193.9,639.2 L196.1,641.1 L202.7,635.7 L205,637.6 L211.4,632 L213.7,633.8 L220,628 L222.4,629.8 L228.2,623.6 L230.8,625 L235.2,617.6 L238,618.5 L242.9,611.5 L245.4,613.1 L251.1,606.8 L253.6,608.3 L259.2,601.9 L261.8,603.4 L267.4,597 L269.9,598.6 L275.5,592.1 L278,593.6 L284.1,587.6 L286.2,589.6 L293.6,585.7 L294,587" fill="none" stroke="#000" stroke-width="1.1" stroke-linejoin="round"/>
<path d="M161.4,656.4 L167.9,651 L170.1,652.9 L176.8,647.8 L179,649.8 L185.8,644.7 L188,646.7 L194.7,641.4 L197,643.3 L203.6,637.9 L205.9,639.8 L212.4,634.1 L214.7,636 L221,630.2 L223.5,631.9 L229.5,625.6 L232.1,627 L236.9,619.3 L239.7,620.2 L244.1,613.6 L246.5,615.2 L252.3,608.9 L254.9,610.4 L260.5,604 L263,605.5 L268.6,599.1 L271.1,600.6 L276.7,594.1 L279.2,595.6 L284.9,589.8 L286.9,591.9 L294.1,588.1 L294.4,589.4" fill="none" stroke="#000" stroke-width="1.1" stroke-linejoin="round"/>
<path d="M118,635 C119.4,638.6 119.5,642.1 122,645 C124.1,647.4 126.8,648.6 130,649 C133.6,649.4 136.3,646.6 140,647 C143.9,647.4 146.3,649.9 150,651 C153.5,652.1 156.3,653.4 160,653 C163.9,652.6 166.4,650.4 170,649" fill="none" stroke="#000" stroke-width="1.34" stroke-linecap="round" stroke-linejoin="round"/>
<path d="M121,640 C122.4,642.5 123.1,644.8 125,647 C126.8,649.2 128.2,651.4 131,652 C134.3,652.7 136.7,649.7 140,650 C143.9,650.4 146.3,652.9 150,654 C153.5,655.1 156.4,655.3 160,656" fill="none" stroke="#000" stroke-width="1.12" stroke-linecap="round" stroke-linejoin="round"/>
<path d="M240,613 L280,589" fill="none" stroke="#000" stroke-width="1.12" stroke-linecap="round" stroke-linejoin="round"/>
<path d="M191,633 C192.8,632.5 194.1,631.3 196,631.5 C197.7,631.7 199,632.6 200,634 C200.8,635.2 201.3,636.8 200.5,638 C199.5,639.5 197.8,639.8 196,640 C194.2,640.2 192.5,640 191,639 C190.1,638.4 190,637.1 190,636 C190,634.9 190.6,634.1 191,633" fill="none" stroke="#000" stroke-width="1.23" stroke-linecap="round" stroke-linejoin="round"/>
<path d="M279,578 L279,591" fill="none" stroke="#000" stroke-width="1.12" stroke-linecap="round" stroke-linejoin="round"/>
<path d="M296.7,607.9 L300.6,604.9 L306.1,603.4 L305.6,653.6 L296.7,647.7 Z" fill="#fff" stroke="#000" stroke-width="1.46" stroke-linejoin="round"/>
<path d="M141.5,584.7 L180.5,563.2 L195.5,571.7 L154.5,598.3 Z" fill="#fff" stroke="#000" stroke-width="2.02" stroke-linejoin="round"/>
<path d="M154.2,595.9 L192.7,570.9" fill="none" stroke="#000" stroke-width="1.23" stroke-linecap="round" stroke-linejoin="round"/>
<path d="M153,594.6 L191.5,569.6" fill="none" stroke="#000" stroke-width="1.23" stroke-linecap="round" stroke-linejoin="round"/>
<ellipse cx="153.9" cy="587.3" rx="5.2" ry="3.8" transform="rotate(-30 153.9 587.3)" fill="#fff" stroke="#000" stroke-width="1.68"/>
<ellipse cx="153.9" cy="586.7" rx="2.8" ry="2" transform="rotate(-30 153.9 586.7)" fill="none" stroke="#000" stroke-width="1.23"/>
<ellipse cx="180.5" cy="571" rx="5.2" ry="3.8" transform="rotate(-30 180.5 571)" fill="#fff" stroke="#000" stroke-width="1.68"/>
<ellipse cx="180.5" cy="570.4" rx="2.8" ry="2" transform="rotate(-30 180.5 570.4)" fill="none" stroke="#000" stroke-width="1.23"/>
<path d="M157.7,581.9 L174,571.9" fill="none" stroke="#000" stroke-width="1.23" stroke-linecap="round" stroke-linejoin="round"/>
<path d="M160.4,586.4 L176.7,576.4" fill="none" stroke="#000" stroke-width="1.23" stroke-linecap="round" stroke-linejoin="round"/>
<path d="M188.2,566 L217.6,566" fill="none" stroke="#000" stroke-width="2" stroke-linecap="round" stroke-linejoin="round"/>
<path d="M155.5,602.4 L155.5,638.8" fill="none" stroke="#000" stroke-width="1.79" stroke-linecap="round" stroke-linejoin="round"/>
<path d="M155.5,682 L155.5,925" fill="none" stroke="#000" stroke-width="1.23" stroke-linecap="round" stroke-linejoin="round"/>
<path d="M307.2,624 L336.6,624" fill="none" stroke="#000" stroke-width="2" stroke-linecap="round" stroke-linejoin="round"/>
<path d="M237.1,712.8 L236.7,711.7 L236.3,710.6 L236,709.5 L235.9,708.4 L235.9,707.5 L236,706.7 L236.2,706 L236.6,705.5 L237,705.2 L237.6,705 L238.2,705.1 L238.9,705.3 L239.6,705.8 L240.3,706.4 L241,707.2 L241.7,708.1 L242.3,709.1 L242.9,710.2 L243.3,711.3 L243.7,712.4 L244,713.5 L244.1,714.6 L244.1,715.5 L244,716.3 L243.8,717 L243.4,717.5 L243,717.8 L242.4,718 L241.8,717.9 L241.1,717.7 L240.4,717.2 L239.7,716.6 L239,715.8 L238.3,714.9 L237.7,713.9 L237.1,712.8 Z" fill="#fff" stroke="#000" stroke-width="1.4"/>
<path d="M219.8,713.2 L237,705.2 L243,717.8 L225.7,725.9 Z" fill="#fff" stroke="none"/>
<path d="M219.8,713.2 L237,705.2" fill="none" stroke="#000" stroke-width="1.4"/>
<path d="M243,717.8 L225.7,725.9" fill="none" stroke="#000" stroke-width="1.4"/>
<path d="M233.6,706.8 L234.2,706.6 L234.9,706.7 L235.7,707.1 L236.5,707.7 L237.3,708.5 L238.1,709.4 L238.8,710.6 L239.4,711.8 L239.9,713 L240.3,714.3 L240.6,715.5 L240.7,716.7 L240.6,717.6 L240.4,718.5 L240,719.1 L239.5,719.5" fill="none" stroke="#000" stroke-width="1.54"/>
<path d="M230.2,708.4 L230.8,708.2 L231.5,708.3 L232.2,708.7 L233,709.3 L233.8,710.1 L234.6,711.1 L235.3,712.2 L236,713.4 L236.5,714.6 L236.9,715.9 L237.1,717.1 L237.2,718.3 L237.2,719.2 L236.9,720.1 L236.6,720.7 L236.1,721.1" fill="none" stroke="#000" stroke-width="1.54"/>
<path d="M226.7,710 L227.3,709.8 L228,709.9 L228.8,710.3 L229.6,710.9 L230.4,711.7 L231.2,712.7 L231.9,713.8 L232.5,715 L233,716.2 L233.4,717.5 L233.7,718.7 L233.8,719.9 L233.7,720.9 L233.5,721.7 L233.1,722.3 L232.6,722.7" fill="none" stroke="#000" stroke-width="1.54"/>
<path d="M223.3,711.6 L223.9,711.4 L224.6,711.6 L225.4,711.9 L226.2,712.5 L227,713.3 L227.7,714.3 L228.4,715.4 L229.1,716.6 L229.6,717.9 L230,719.1 L230.2,720.3 L230.3,721.5 L230.3,722.5 L230,723.3 L229.7,723.9 L229.2,724.3" fill="none" stroke="#000" stroke-width="1.54"/>
<path d="M219.9,720.9 L219.5,719.7 L219.1,718.6 L218.8,717.5 L218.7,716.5 L218.7,715.5 L218.8,714.7 L219,714 L219.4,713.5 L219.8,713.2 L220.4,713.1 L221,713.1 L221.6,713.4 L222.3,713.8 L223.1,714.4 L223.8,715.2 L224.5,716.1 L225.1,717.1 L225.6,718.2 L226.1,719.3 L226.5,720.4 L226.7,721.5 L226.9,722.6 L226.9,723.5 L226.8,724.4 L226.5,725 L226.2,725.5 L225.7,725.9 L225.2,726 L224.6,725.9 L223.9,725.7 L223.2,725.2 L222.5,724.6 L221.8,723.9 L221.1,723 L220.5,721.9 L219.9,720.9 Z" fill="#fff" stroke="#000" stroke-width="1.4"/>
<path d="M218.1,721.7 L217.3,719.9 L216.7,718 L216.3,716.2 L216.1,714.5 L216,713 L216.2,711.6 L216.6,710.5 L217.2,709.6 L217.9,709.1 L218.8,708.9 L219.8,709 L220.9,709.4 L222.1,710.1 L223.2,711.2 L224.4,712.4 L225.5,713.9 L226.6,715.6 L227.5,717.3 L228.2,719.2 L228.8,721 L229.3,722.8 L229.5,724.6 L229.5,726.1 L229.3,727.5 L229,728.6 L228.4,729.4 L227.6,730 L226.8,730.2 L225.7,730.1 L224.6,729.6 L223.5,728.9 L222.3,727.9 L221.1,726.6 L220,725.1 L219,723.5 L218.1,721.7 Z" fill="#fff" stroke="#000" stroke-width="1.4"/>
<path d="M214.3,710.8 L217.9,709.1 L227.6,730 L224,731.6 Z" fill="#fff" stroke="none"/>
<path d="M214.3,710.8 L217.9,709.1" fill="none" stroke="#000" stroke-width="1.4"/>
<path d="M227.6,730 L224,731.6" fill="none" stroke="#000" stroke-width="1.4"/>
<path d="M214.5,723.4 L213.7,721.6 L213.1,719.7 L212.7,717.9 L212.4,716.2 L212.4,714.6 L212.6,713.3 L213,712.2 L213.6,711.3 L214.3,710.8 L215.2,710.6 L216.2,710.7 L217.3,711.1 L218.4,711.8 L219.6,712.8 L220.8,714.1 L221.9,715.6 L222.9,717.3 L223.8,719 L224.6,720.9 L225.2,722.7 L225.6,724.5 L225.9,726.2 L225.9,727.8 L225.7,729.2 L225.3,730.3 L224.8,731.1 L224,731.6 L223.1,731.9 L222.1,731.8 L221,731.3 L219.9,730.6 L218.7,729.6 L217.5,728.3 L216.4,726.8 L215.4,725.2 L214.5,723.4 Z" fill="#fff" stroke="#000" stroke-width="1.4"/>
<path d="M215.3,723 L214.6,721.5 L214.1,720 L213.8,718.5 L213.6,717.1 L213.6,715.8 L213.7,714.7 L214.1,713.7 L214.5,713.1 L215.1,712.6 L215.9,712.4 L216.7,712.5 L217.6,712.9 L218.6,713.5 L219.5,714.3 L220.5,715.4 L221.4,716.6 L222.3,717.9 L223,719.4 L223.7,720.9 L224.2,722.5 L224.5,724 L224.7,725.4 L224.7,726.7 L224.6,727.8 L224.3,728.7 L223.8,729.4 L223.2,729.8 L222.4,730 L221.6,729.9 L220.7,729.6 L219.7,729 L218.8,728.1 L217.8,727.1 L216.9,725.9 L216,724.5 L215.3,723 Z" fill="#fff" stroke="#000" stroke-width="1.4"/>
<path d="M199.7,719.8 L215.1,712.6 L223.2,729.8 L207.8,737 Z" fill="#fff" stroke="none"/>
<path d="M199.7,719.8 L215.1,712.6" fill="none" stroke="#000" stroke-width="1.4"/>
<path d="M223.2,729.8 L207.8,737" fill="none" stroke="#000" stroke-width="1.4"/>
<path d="M198.4,725.7 L213.8,718.5" fill="none" stroke="#000" stroke-width="1.26"/>
<path d="M202.4,734.3 L217.8,727.1" fill="none" stroke="#000" stroke-width="1.26"/>
<path d="M199.9,730.2 L199.2,728.7 L198.7,727.2 L198.4,725.7 L198.2,724.3 L198.2,723 L198.3,721.9 L198.6,720.9 L199.1,720.2 L199.7,719.8 L200.5,719.6 L201.3,719.7 L202.2,720 L203.2,720.6 L204.1,721.5 L205.1,722.5 L206,723.8 L206.9,725.1 L207.6,726.6 L208.3,728.1 L208.8,729.7 L209.1,731.1 L209.3,732.6 L209.3,733.8 L209.2,735 L208.8,735.9 L208.4,736.6 L207.8,737 L207,737.2 L206.2,737.1 L205.3,736.8 L204.3,736.2 L203.4,735.3 L202.4,734.3 L201.5,733 L200.6,731.7 L199.9,730.2 Z" fill="#fff" stroke="#000" stroke-width="1.4"/>
<path d="M245,705.8 L259.9,697.4" fill="none" stroke="#000" stroke-width="1.34" stroke-linecap="round" stroke-linejoin="round"/>
<path d="M209,740.7 L209,769.2" fill="none" stroke="#000" stroke-width="2" stroke-linecap="round" stroke-linejoin="round"/>
<path d="M192.6,964.2 L232.2,951.6" fill="none" stroke="#000" stroke-width="1.34" stroke-linecap="round" stroke-linejoin="round"/>
<path d="M203.4,962.4 L232.2,976.8" fill="none" stroke="#000" stroke-width="1.34" stroke-linecap="round" stroke-linejoin="round"/>
<path d="M246.6,987.6 L279,1005.6" fill="none" stroke="#000" stroke-width="1.34" stroke-linecap="round" stroke-linejoin="round"/>
<path d="M190.8,973.2 L232.2,994.8" fill="none" stroke="#000" stroke-width="1.34" stroke-linecap="round" stroke-linejoin="round"/>
<path d="M246.6,1005.6 L255,1010" fill="none" stroke="#000" stroke-width="1.34" stroke-linecap="round" stroke-linejoin="round"/>
<path d="M185.4,994.8 L228.6,1016.4" fill="none" stroke="#000" stroke-width="1.34" stroke-linecap="round" stroke-linejoin="round"/>
<path d="M181.8,1011 L214.2,1027.2" fill="none" stroke="#000" stroke-width="1.34" stroke-linecap="round" stroke-linejoin="round"/>
<path d="M309.6,958.8 L342,980.4" fill="none" stroke="#000" stroke-width="1.34" stroke-linecap="round" stroke-linejoin="round"/>
<path d="M307.8,978.6 L327.6,989.4" fill="none" stroke="#000" stroke-width="1.34" stroke-linecap="round" stroke-linejoin="round"/>
<path d="M250.2,947.1 L293.4,952.5" fill="none" stroke="#000" stroke-width="1.34" stroke-linecap="round" stroke-linejoin="round"/>
<path d="M250.2,963.3 L291.6,967.8" fill="none" stroke="#000" stroke-width="1.34" stroke-linecap="round" stroke-linejoin="round"/>
<path d="M453.9,817.8 C456.9,823.7 459.7,828.1 462.1,834.3 C464.6,840.8 466.3,846 467.3,852.9 C468.5,861 469.3,867.5 468.3,875.6 C467.4,883.3 465.9,889.5 462.1,896.3 C459,901.8 454.8,905 449.7,908.6 C444.3,912.5 439.1,913.8 433.2,916.9 C423.5,922 416,926.1 406.4,931.3" fill="none" stroke="#000" stroke-width="1.46" stroke-linecap="round" stroke-linejoin="round"/>
<path d="M443.5,865.3 C442.8,871.2 443.8,876.3 441.5,881.8 C439.9,885.7 436.7,887.8 433.2,890.1 C424,896 416,899.3 406.4,904.5" fill="none" stroke="#000" stroke-width="1.46" stroke-linecap="round" stroke-linejoin="round"/>
<path d="M438.8,757 L438.8,863" fill="none" stroke="#000" stroke-width="1.46" stroke-linecap="round" stroke-linejoin="round"/>
<path d="M455.2,749 L455.2,817.8" fill="none" stroke="#000" stroke-width="1.46" stroke-linecap="round" stroke-linejoin="round"/>
<path d="M439.4,834 L416.7,900.4 L407,946" fill="none" stroke="#000" stroke-width="1.1" stroke-dasharray="4,2"/>
<path d="M452,850 L427,925 L421,946" fill="none" stroke="#000" stroke-width="1.1" stroke-dasharray="4,2"/>
<path d="M406,952 C408.9,951.3 411.2,951.1 414,950 C416.7,948.9 418.4,944.8 421,946 C424.2,947.5 425.6,951.5 425,955 C424.3,958.8 421.2,961 418,963 C414.1,965.4 410.3,965.6 406,967" fill="none" stroke="#000" stroke-width="1.23" stroke-linecap="round" stroke-linejoin="round"/>
<path d="M420.4,759.4 L438.8,785" fill="none" stroke="#000" stroke-width="1.23" stroke-linecap="round" stroke-linejoin="round"/>
<path d="M423.6,769 L438,787.4" fill="none" stroke="#000" stroke-width="1.23" stroke-linecap="round" stroke-linejoin="round"/>
<ellipse cx="419.6" cy="781" rx="3.2" ry="5" transform="rotate(-10 419.6 781)" fill="none" stroke="#000" stroke-width="1.34"/>
<path d="M410,793 L424.4,807.4" fill="none" stroke="#000" stroke-width="1.23" stroke-linecap="round" stroke-linejoin="round"/>
<path d="M438,799.4 C435.7,798 434.3,795.8 431.6,795.4 C429.9,795.1 428.5,796.4 427.6,797.8 C425.7,800.9 424.3,803.8 424.4,807.4 C424.5,812.1 426.5,815.5 428,820 C429.4,824.2 430.8,827.3 432.4,831.4" fill="none" stroke="#000" stroke-width="1.34" stroke-linecap="round" stroke-linejoin="round"/>
<path d="M438.8,811.4 L432.4,831.4" fill="none" stroke="#000" stroke-width="1.23" stroke-linecap="round" stroke-linejoin="round"/>
<path d="M402.8,769 C402.4,771.2 401.7,772.8 401.8,775 C401.9,777.5 402.9,779.4 403.5,781.8" fill="none" stroke="#000" stroke-width="1.12" stroke-linecap="round" stroke-linejoin="round"/>
<path d="M409.2,762.6 C411.3,761.7 412.8,760.6 415,760 C417.5,759.4 419.5,759.6 422,759.4" fill="none" stroke="#000" stroke-width="1.12" stroke-linecap="round" stroke-linejoin="round"/>
<path d="M172,1058 L185.5,1052 L214,1029.5 L227.5,1023.5 L244.8,1014.6 L288,1005.6 L309.6,996.6 L340,984 L360,976 L352.8,1009.2 L338.4,1012.8 L289.8,1027.2 L246.6,1040 L220,1053.5 L197.5,1068.5 L185.5,1073.7 L175,1073 L164.5,1069.3 Z" fill="#fff" stroke="#000" stroke-width="0.0" stroke-linejoin="round"/>
<path d="M172,1058 C176.9,1055.8 181.1,1055 185.5,1052 C196.3,1044.7 203.2,1036.8 214,1029.5 C218.4,1026.5 222.7,1025.8 227.5,1023.5 C233.8,1020.4 238.1,1016.6 244.8,1014.6 C260,1010.1 272.7,1009.9 288,1005.6 C296.1,1003.3 301.8,999.8 309.6,996.6 C320.5,992.1 329,988.5 340,984 C347.2,981.1 352.8,978.9 360,976" fill="none" stroke="#000" stroke-width="1.46" stroke-linecap="round" stroke-linejoin="round"/>
<path d="M164.5,1069.3 C168.3,1070.6 171.1,1072.2 175,1073 C178.7,1073.8 181.8,1074.4 185.5,1073.7 C190.1,1072.8 193.4,1070.9 197.5,1068.5 C205.9,1063.6 211.6,1058.4 220,1053.5 C229.3,1048.1 236.6,1043.8 246.6,1040 C261.8,1034.3 274.2,1031.8 289.8,1027.2 C307.3,1022 320.9,1017.8 338.4,1012.8 C343.5,1011.3 347.6,1010.5 352.8,1009.2" fill="none" stroke="#000" stroke-width="1.46" stroke-linecap="round" stroke-linejoin="round"/>
<path d="M330,970.6 L379.5,961.3" fill="none" stroke="#000" stroke-width="1.23" stroke-linecap="round" stroke-linejoin="round"/>
<path d="M234.4,912.4 L254.2,901.4 L243.5,1037 L226,1045 Z" fill="#fff" stroke="#000" stroke-width="0.0" stroke-linejoin="round"/>
<path d="M234.4,912.4 L226,1045" fill="none" stroke="#000" stroke-width="1.35" stroke-dasharray="6,1.3"/>
<path d="M254.2,901.4 L243.5,1037" fill="none" stroke="#000" stroke-width="1.35" stroke-dasharray="6,1.3"/>
<path d="M226,1045 L233.8,1037 L242.5,1036" fill="none" stroke="#000" stroke-width="1.23" stroke-linecap="round" stroke-linejoin="round"/>
<path d="M226,1045 L227,1051 L243.5,1040 L243.5,1037" fill="none" stroke="#000" stroke-width="1.23" stroke-linecap="round" stroke-linejoin="round"/>
<path d="M300.4,875 L315.8,866.2 L307.5,1016 L289.6,1024 Z" fill="#fff" stroke="#000" stroke-width="0.0" stroke-linejoin="round"/>
<path d="M300.4,875 L289.6,1024" fill="none" stroke="#000" stroke-width="1.35" stroke-dasharray="6,1.3"/>
<path d="M315.8,866.2 L307.5,1016" fill="none" stroke="#000" stroke-width="1.35" stroke-dasharray="6,1.3"/>
<path d="M289.6,1024 L297.6,1016 L306.5,1015" fill="none" stroke="#000" stroke-width="1.23" stroke-linecap="round" stroke-linejoin="round"/>
<path d="M289.6,1024 L290.6,1030 L307.5,1019 L307.5,1016" fill="none" stroke="#000" stroke-width="1.23" stroke-linecap="round" stroke-linejoin="round"/>
<path d="M131,910.2 L153,921.2 L164,952 L139.8,949.8 Z" fill="#fff" stroke="#000" stroke-width="1.46" stroke-linejoin="round"/>
<path d="M131,910.2 L188.2,897 L201.4,902.5 L153,921.2 Z" fill="#fff" stroke="#000" stroke-width="1.46" stroke-linejoin="round"/>
<path d="M153,921.2 L201.4,902.5 L205,925 L164,952 Z" fill="#fff" stroke="#000" stroke-width="1.46" stroke-linejoin="round"/>
<ellipse cx="155.2" cy="914.6" rx="5.5" ry="3.2" transform="rotate(-12 155.2 914.6)" fill="none" stroke="#000" stroke-width="1.34"/>
<ellipse cx="188.2" cy="905.8" rx="5.5" ry="3.2" transform="rotate(-12 188.2 905.8)" fill="none" stroke="#000" stroke-width="1.34"/>
<path d="M157,925 L165,948" fill="none" stroke="#000" stroke-width="1.12" stroke-linecap="round" stroke-linejoin="round"/>
<path d="M165.4,953.2 C163.7,952.9 162.2,953 160.6,952.4 C158.4,951.6 157.3,949.2 155,949.2 C150.5,949.2 147.2,950.9 143,952.4 C140,953.5 137.4,954.2 135,956.4 C131.8,959.3 129.6,962 128,966 C126.1,970.7 125.7,974.9 125.5,980 C125.3,985.4 126.2,989.6 127,995 C127.8,1000.4 128.9,1004.6 130,1010 C132.2,1020.8 134,1029.2 136,1040 C137.2,1046.5 136.9,1051.8 139,1058 C140.2,1061.7 141.9,1064.6 145,1067 C148.2,1069.4 151.5,1070.3 155.5,1070.7 C158.8,1071 161.5,1070.5 164.5,1069 C166.7,1067.9 167.6,1066 169,1064 C170.4,1062 170.9,1060.2 172,1058" fill="none" stroke="#000" stroke-width="1.46" stroke-linecap="round" stroke-linejoin="round"/>
<path d="M380.6,843.6 C380.6,896 383.9,936.9 380.6,989.2 C380.4,992.9 374.8,992.2 371.3,993.3 C367.7,994.4 364.8,995.7 361,995.3 C357,994.9 354.6,990.7 350.6,991.2 C346.9,991.6 344.4,994.3 342.4,997.4 C340.8,999.9 340.1,1003 341.4,1005.7 C343.4,1009.7 346.6,1012 350.6,1013.9 C357.6,1017.3 363.5,1019.7 371.3,1020.1 C378.9,1020.5 385.2,1019.5 392,1016 C397.4,1013.2 400.8,1009.1 403.3,1003.6 C405.8,998.1 405.3,993 405.4,987 C406.1,922.4 404.4,872.1 405.4,807.5 C405.5,802.7 406.8,799.1 408.4,794.6 C409.7,790.9 411.3,788.4 413.2,785 C415.5,780.9 417.3,777.8 420,774 C422,771.2 423.5,769 426,766.6 C430,762.8 433.3,759.9 438,757 C445.7,752.1 452.5,749.6 460.4,745 C464.2,742.8 466.8,740.4 470.5,738 C474.7,735.4 478.9,734.7 482.4,731.2 C485.3,728.3 486.4,725 487.5,721 C488.6,716.9 488.9,713.4 488.4,709.1 C488.2,707.3 487.5,705.4 485.8,704.9 C483.4,704.3 481.3,705.5 479,706.6 C472.7,709.5 468.1,712.4 462,715.9 C455.8,719.5 451,722.2 445,726.1 C438.7,730.2 434.1,733.7 428,738 C421.9,742.3 416.8,745.2 411,749.9 C406.3,753.8 402.9,757.1 399.1,761.8 C395.5,766.3 393.2,770.2 390.6,775.4 C387.7,781.3 385.6,786.1 383.8,792.4 C382.1,798.6 381.3,803.6 380.9,810 C380.1,822.1 380.7,831.5 380.6,843.6 C380.6,843.6 380.6,843.6 380.6,843.6 Z" fill="#fff" stroke="#000" stroke-width="1.46" stroke-linejoin="round"/>
<path d="M389.4,834.8 C389.4,830.9 388.1,827.9 386,824.6 C384.3,821.9 382.4,818.9 379.2,818.7 C369.3,818.2 361.6,820.5 352,822.9 C345.6,824.5 340.9,826.8 335,829.7 C328.6,832.9 324.6,837.1 318,839.9 C310.4,843.2 303.5,842.9 296,846.4 C279.6,854 267.5,861.3 252,870.6 C239.8,877.9 230.7,884.4 219,892.6 C212.5,897.1 207.2,900.4 201.4,905.8 C195.2,911.5 191.4,916.9 186,923.4 C184.2,925.6 182.9,927.5 181.4,930 C178.1,935.4 175.3,939.5 172.6,945.2 C170.1,950.5 168.7,954.8 167,960.4 C165.8,964.3 165.5,967.6 164.6,971.6 C163,979 161.5,984.6 160,992 C158.7,998.5 157.4,1003.5 156.6,1010 C155.3,1020.8 154.1,1029.2 154,1040 C153.9,1047.2 153.9,1053.1 156,1060 C156.9,1062.9 159,1065.5 162,1066 C164.6,1066.4 166,1063.6 168,1062 C169.6,1060.7 171.4,1059.9 172,1058 C174,1051.7 173.8,1046.5 175,1040 C176.5,1031.9 177.6,1025.5 179.5,1017.5 C180.5,1013.3 182,1010.2 183,1006 C184.4,1000.3 185,995.8 186.2,990 C187.3,984.5 188.2,980.3 189.4,974.8 C190.5,970.2 190.9,966.4 192.6,962 C194.4,957.4 196.4,954.2 199,950 C202.5,944.4 204.9,939.6 209.4,934.8 C217.7,926 224.9,919.8 234.4,912.4 C243.4,905.4 251,900.7 260.8,894.8 C268.9,889.9 275.7,887 284,882.4 C290.2,878.9 295,876.1 301,872.2 C307.3,868.1 311.6,864.1 318,860.3 C323.9,856.8 328.6,854.3 335,851.8 C340.9,849.4 345.7,847.9 352,846.7 C362.3,844.8 370.5,844.9 380.9,843.3 C382.8,843 384.6,843 386,841.6 C387.9,839.7 389.4,837.5 389.4,834.8 Z" fill="#fff" stroke="#000" stroke-width="0.0" stroke-linejoin="round"/>
<path d="M389.4,834.8 C388.2,831.1 388.1,827.9 386,824.6 C384.3,821.9 382.4,818.9 379.2,818.7 C369.3,818.2 361.6,820.5 352,822.9 C345.6,824.5 340.9,826.8 335,829.7 C328.6,832.9 324.6,837.1 318,839.9 C310.4,843.2 303.5,842.9 296,846.4 C279.6,854 267.5,861.3 252,870.6 C239.8,877.9 230.7,884.4 219,892.6 C212.5,897.1 207.2,900.4 201.4,905.8 C195.2,911.5 191.4,916.9 186,923.4 C184.2,925.6 182.9,927.5 181.4,930 C178.1,935.4 175.3,939.5 172.6,945.2 C170.1,950.5 168.7,954.8 167,960.4 C165.8,964.3 165.5,967.6 164.6,971.6" fill="none" stroke="#000" stroke-width="1.46" stroke-linecap="round" stroke-linejoin="round"/>
<path d="M172,1058 C173.1,1051.5 173.8,1046.5 175,1040 C176.5,1031.9 177.6,1025.5 179.5,1017.5 C180.5,1013.3 182,1010.2 183,1006 C184.4,1000.3 185,995.8 186.2,990 C187.3,984.5 188.2,980.3 189.4,974.8 C190.5,970.2 190.9,966.4 192.6,962 C194.4,957.4 196.4,954.2 199,950 C202.5,944.4 204.9,939.6 209.4,934.8 C217.7,926 224.9,919.8 234.4,912.4 C243.4,905.4 251,900.7 260.8,894.8 C268.9,889.9 275.7,887 284,882.4 C290.2,878.9 295,876.1 301,872.2 C307.3,868.1 311.6,864.1 318,860.3 C323.9,856.8 328.6,854.3 335,851.8 C340.9,849.4 345.7,847.9 352,846.7 C362.3,844.8 370.5,844.9 380.9,843.3 C382.8,843 384.2,842.2 386,841.6" fill="none" stroke="#000" stroke-width="1.46" stroke-linecap="round" stroke-linejoin="round"/>
<path d="M164.6,971.6 L160,992 L156.6,1010" fill="none" stroke="#000" stroke-width="1.1" stroke-dasharray="4,2"/>
<path d="M389.4,834.8 L386,841.6" fill="none" stroke="#000" stroke-width="1.46" stroke-linecap="round" stroke-linejoin="round"/>
<path d="M149.4,975.6 L164.6,971.6" fill="none" stroke="#000" stroke-width="1.23" stroke-linecap="round" stroke-linejoin="round"/>
<path d="M149.4,975.6 L155.8,1010 M155.8,1010 L151.7,1039" fill="none" stroke="#000" stroke-width="1.0" stroke-dasharray="4,2"/>
<path d="M216.4,925.5 C217,927.1 217.9,928.3 218.2,930 C218.4,931.6 217.4,932.9 217.8,934.5 C218.2,936 219,937.4 220.5,938 C221.5,938.4 222.7,937.5 223,936.5 C223.4,935.1 222.7,933.8 222,932.5 C221.4,931.4 220.5,930.9 219.6,930" fill="none" stroke="#000" stroke-width="1.34" stroke-linecap="round" stroke-linejoin="round"/>
<path d="M219.6,930 L235.6,921.2" fill="none" stroke="#000" stroke-width="1.34" stroke-linecap="round" stroke-linejoin="round"/>
<path d="M207.6,935.6 L212,936.5 L217.8,934.5" fill="none" stroke="#000" stroke-width="1.23" stroke-linecap="round" stroke-linejoin="round"/>
<path d="M479,706.6 L514.7,681 L517.3,686.2 L490.9,709.1 L488.4,709.1 L485.8,704.9 Z" fill="#fff" stroke="#000" stroke-width="1.46" stroke-linejoin="round"/>
<ellipse cx="500.3" cy="697.2" rx="4.5" ry="2.5" transform="rotate(-35 500.3 697.2)" fill="none" stroke="#000" stroke-width="1.34"/>
<path d="M483,703 L513,682.5" fill="none" stroke="#000" stroke-width="1.12" stroke-linecap="round" stroke-linejoin="round"/>
<path d="M297.7,804.5 L297.4,803.7 L297.1,803 L296.9,802.3 L296.8,801.7 L296.7,801.1 L296.8,800.5 L296.9,800.1 L297.1,799.8 L297.4,799.5 L297.7,799.4 L298.1,799.4 L298.6,799.6 L299,799.8 L299.5,800.2 L300,800.7 L300.5,801.2 L300.9,801.9 L301.3,802.5 L301.6,803.3 L301.9,804 L302.1,804.7 L302.2,805.3 L302.3,805.9 L302.2,806.5 L302.1,806.9 L301.9,807.2 L301.6,807.5 L301.3,807.6 L300.9,807.6 L300.4,807.4 L300,807.2 L299.5,806.8 L299,806.3 L298.5,805.8 L298.1,805.1 L297.7,804.5 Z" fill="#fff" stroke="#000" stroke-width="1.3"/>
<path d="M285,806.1 L297.4,799.5 L301.6,807.5 L289.3,814 Z" fill="#fff" stroke="none"/>
<path d="M285,806.1 L297.4,799.5" fill="none" stroke="#000" stroke-width="1.3"/>
<path d="M301.6,807.5 L289.3,814" fill="none" stroke="#000" stroke-width="1.3"/>
<path d="M294.9,800.8 L295.3,800.7 L295.8,800.8 L296.3,801 L296.8,801.3 L297.3,801.8 L297.9,802.4 L298.4,803.1 L298.8,803.9 L299.2,804.7 L299.5,805.5 L299.7,806.2 L299.8,807 L299.8,807.6 L299.7,808.1 L299.4,808.5 L299.1,808.8" fill="none" stroke="#000" stroke-width="1.4300000000000002"/>
<path d="M292.4,802.2 L292.8,802 L293.3,802.1 L293.8,802.3 L294.3,802.6 L294.9,803.1 L295.4,803.7 L295.9,804.4 L296.3,805.2 L296.7,806 L297,806.8 L297.2,807.5 L297.3,808.3 L297.3,808.9 L297.2,809.4 L297,809.8 L296.7,810.1" fill="none" stroke="#000" stroke-width="1.4300000000000002"/>
<path d="M290,803.5 L290.4,803.4 L290.8,803.4 L291.3,803.6 L291.9,804 L292.4,804.4 L292.9,805 L293.4,805.7 L293.9,806.5 L294.2,807.3 L294.5,808.1 L294.7,808.9 L294.8,809.6 L294.8,810.2 L294.7,810.8 L294.5,811.2 L294.2,811.4" fill="none" stroke="#000" stroke-width="1.4300000000000002"/>
<path d="M287.5,804.8 L287.9,804.7 L288.3,804.7 L288.8,804.9 L289.4,805.3 L289.9,805.8 L290.5,806.4 L291,807.1 L291.4,807.8 L291.8,808.6 L292.1,809.4 L292.3,810.2 L292.4,810.9 L292.4,811.5 L292.2,812.1 L292,812.5 L291.7,812.7" fill="none" stroke="#000" stroke-width="1.4300000000000002"/>
<path d="M285.4,811 L285,810.3 L284.7,809.6 L284.5,808.9 L284.4,808.2 L284.4,807.6 L284.4,807.1 L284.5,806.7 L284.7,806.3 L285,806.1 L285.4,806 L285.8,806 L286.2,806.2 L286.7,806.4 L287.2,806.8 L287.6,807.3 L288.1,807.8 L288.5,808.4 L288.9,809.1 L289.3,809.8 L289.5,810.5 L289.7,811.2 L289.9,811.9 L289.9,812.5 L289.9,813 L289.7,813.5 L289.5,813.8 L289.3,814 L288.9,814.2 L288.5,814.1 L288.1,814 L287.6,813.7 L287.1,813.4 L286.6,812.9 L286.2,812.3 L285.7,811.7 L285.4,811 Z" fill="#fff" stroke="#000" stroke-width="1.3"/>
<path d="M284.2,811.7 L283.6,810.5 L283.1,809.3 L282.8,808.1 L282.6,807 L282.5,806 L282.6,805.1 L282.8,804.4 L283.2,803.8 L283.6,803.5 L284.2,803.3 L284.8,803.3 L285.6,803.5 L286.4,804 L287.2,804.6 L288,805.4 L288.7,806.3 L289.5,807.4 L290.1,808.5 L290.7,809.7 L291.1,810.8 L291.5,812 L291.7,813.1 L291.8,814.1 L291.7,815 L291.5,815.8 L291.1,816.3 L290.7,816.7 L290.1,816.9 L289.4,816.8 L288.7,816.6 L287.9,816.2 L287.1,815.5 L286.3,814.8 L285.5,813.8 L284.8,812.8 L284.2,811.7 Z" fill="#fff" stroke="#000" stroke-width="1.3"/>
<path d="M281,804.9 L283.6,803.5 L290.7,816.7 L288,818.1 Z" fill="#fff" stroke="none"/>
<path d="M281,804.9 L283.6,803.5" fill="none" stroke="#000" stroke-width="1.3"/>
<path d="M290.7,816.7 L288,818.1" fill="none" stroke="#000" stroke-width="1.3"/>
<path d="M281.5,813.1 L280.9,811.9 L280.5,810.7 L280.1,809.5 L279.9,808.4 L279.9,807.4 L280,806.5 L280.2,805.8 L280.5,805.2 L281,804.9 L281.5,804.7 L282.2,804.7 L282.9,805 L283.7,805.4 L284.5,806 L285.3,806.8 L286.1,807.7 L286.8,808.8 L287.5,809.9 L288,811.1 L288.5,812.3 L288.8,813.4 L289,814.5 L289.1,815.5 L289,816.4 L288.8,817.2 L288.5,817.7 L288,818.1 L287.4,818.3 L286.8,818.2 L286,818 L285.3,817.6 L284.5,817 L283.7,816.2 L282.9,815.2 L282.2,814.2 L281.5,813.1 Z" fill="#fff" stroke="#000" stroke-width="1.3"/>
<path d="M281.9,812.9 L281.4,811.8 L281,810.8 L280.7,809.8 L280.5,808.8 L280.5,808 L280.6,807.2 L280.7,806.6 L281,806.1 L281.4,805.7 L281.9,805.6 L282.5,805.6 L283.1,805.8 L283.8,806.2 L284.5,806.7 L285.2,807.4 L285.9,808.2 L286.5,809.1 L287.1,810.1 L287.6,811.1 L288,812.2 L288.3,813.2 L288.4,814.1 L288.5,815 L288.4,815.8 L288.2,816.4 L287.9,816.9 L287.5,817.2 L287,817.4 L286.5,817.3 L285.8,817.1 L285.2,816.8 L284.5,816.2 L283.8,815.5 L283.1,814.7 L282.5,813.8 L281.9,812.9 Z" fill="#fff" stroke="#000" stroke-width="1.3"/>
<path d="M270.8,811.4 L281.4,805.7 L287.5,817.2 L276.9,822.9 Z" fill="#fff" stroke="none"/>
<path d="M270.8,811.4 L281.4,805.7" fill="none" stroke="#000" stroke-width="1.3"/>
<path d="M287.5,817.2 L276.9,822.9" fill="none" stroke="#000" stroke-width="1.3"/>
<path d="M270.1,815.4 L280.7,809.8" fill="none" stroke="#000" stroke-width="1.1700000000000002"/>
<path d="M273.2,821.2 L283.8,815.5" fill="none" stroke="#000" stroke-width="1.1700000000000002"/>
<path d="M271.3,818.5 L270.8,817.5 L270.4,816.4 L270.1,815.4 L270,814.5 L269.9,813.6 L270,812.8 L270.1,812.2 L270.4,811.7 L270.8,811.4 L271.3,811.2 L271.9,811.3 L272.5,811.5 L273.2,811.8 L273.9,812.4 L274.6,813.1 L275.3,813.9 L275.9,814.8 L276.5,815.7 L277,816.8 L277.4,817.8 L277.7,818.8 L277.8,819.8 L277.9,820.6 L277.8,821.4 L277.6,822 L277.3,822.5 L276.9,822.9 L276.5,823 L275.9,823 L275.2,822.8 L274.6,822.4 L273.9,821.9 L273.2,821.2 L272.5,820.4 L271.9,819.5 L271.3,818.5 Z" fill="#fff" stroke="#000" stroke-width="1.3"/>
<path d="M300.2,802.5 L367.3,765.1 L367.3,809.3 L416,782.5" fill="none" stroke="#000" stroke-width="1.34" stroke-linecap="round" stroke-linejoin="round"/>
<path d="M268.5,782.1 L268.5,809.3" fill="none" stroke="#000" stroke-width="2" stroke-linecap="round" stroke-linejoin="round"/>
<path d="M324.5,1018 L324.5,1048.8" fill="none" stroke="#000" stroke-width="2" stroke-linecap="round" stroke-linejoin="round"/>
<path d="M436,617 L491.5,688" fill="none" stroke="#000" stroke-width="1.23" stroke-linecap="round" stroke-linejoin="round"/>
<path d="M552,575 L566,593 L576,606" fill="none" stroke="#000" stroke-width="1.23" stroke-linecap="round" stroke-linejoin="round"/>
<path d="M435,615 L435.6,614.5 L436.1,614.1 L436.7,613.7 L437.3,613.5 L437.8,613.3 L438.3,613.2 L438.8,613.2 L439.2,613.3 L439.5,613.5 L439.7,613.8 L439.8,614.2 L439.8,614.7 L439.7,615.2 L439.5,615.7 L439.3,616.3 L438.9,616.9 L438.5,617.4 L438,618 L437.4,618.5 L436.9,618.9 L436.3,619.3 L435.7,619.5 L435.2,619.7 L434.7,619.8 L434.2,619.8 L433.8,619.7 L433.5,619.5 L433.3,619.2 L433.2,618.8 L433.2,618.3 L433.3,617.8 L433.5,617.3 L433.7,616.7 L434.1,616.1 L434.5,615.6 L435,615 Z" fill="#fff" stroke="#000" stroke-width="1.5"/>
<path d="M432.4,606.5 L439.5,613.5 L433.5,619.5 L426.5,612.4 Z" fill="#fff" stroke="none"/>
<path d="M432.4,606.5 L439.5,613.5" fill="none" stroke="#000" stroke-width="1.5"/>
<path d="M433.5,619.5 L426.5,612.4" fill="none" stroke="#000" stroke-width="1.5"/>
<path d="M437.7,611.8 L437.9,612.1 L438,612.6 L438,613.1 L437.9,613.7 L437.6,614.3 L437.2,615 L436.8,615.6 L436.2,616.2 L435.6,616.8 L435,617.2 L434.3,617.6 L433.7,617.9 L433.1,618 L432.6,618 L432.1,617.9 L431.8,617.7" fill="none" stroke="#000" stroke-width="1.6500000000000001"/>
<path d="M435.9,610 L436.2,610.3 L436.3,610.8 L436.3,611.3 L436.1,611.9 L435.8,612.5 L435.5,613.2 L435,613.8 L434.4,614.4 L433.8,615 L433.2,615.5 L432.5,615.8 L431.9,616.1 L431.3,616.3 L430.8,616.3 L430.3,616.2 L430,615.9" fill="none" stroke="#000" stroke-width="1.6500000000000001"/>
<path d="M434.2,608.2 L434.4,608.6 L434.5,609 L434.5,609.6 L434.3,610.1 L434.1,610.8 L433.7,611.4 L433.2,612.1 L432.7,612.7 L432.1,613.2 L431.4,613.7 L430.8,614.1 L430.1,614.3 L429.6,614.5 L429,614.5 L428.6,614.4 L428.2,614.2" fill="none" stroke="#000" stroke-width="1.6500000000000001"/>
<path d="M427.9,607.9 L428.5,607.5 L429,607 L429.6,606.7 L430.2,606.4 L430.7,606.2 L431.3,606.1 L431.7,606.1 L432.1,606.2 L432.4,606.5 L432.6,606.8 L432.7,607.1 L432.7,607.6 L432.7,608.1 L432.5,608.7 L432.2,609.2 L431.8,609.8 L431.4,610.4 L430.9,610.9 L430.4,611.4 L429.8,611.8 L429.2,612.2 L428.7,612.5 L428.1,612.7 L427.6,612.7 L427.1,612.7 L426.8,612.6 L426.5,612.4 L426.2,612.1 L426.1,611.7 L426.1,611.3 L426.2,610.7 L426.4,610.2 L426.7,609.6 L427,609 L427.5,608.5 L427.9,607.9 Z" fill="#fff" stroke="#000" stroke-width="1.5"/>
<path d="M426.7,606.7 L427.7,605.8 L428.7,605.1 L429.8,604.4 L430.8,603.9 L431.8,603.6 L432.7,603.4 L433.6,603.5 L434.3,603.7 L434.8,604.1 L435.2,604.6 L435.4,605.3 L435.4,606.1 L435.3,607 L434.9,608 L434.4,609.1 L433.8,610.1 L433,611.1 L432.1,612.1 L431.1,613 L430.1,613.8 L429.1,614.4 L428,614.9 L427,615.3 L426.1,615.4 L425.3,615.4 L424.6,615.2 L424.1,614.8 L423.7,614.3 L423.5,613.6 L423.4,612.7 L423.6,611.8 L423.9,610.8 L424.4,609.8 L425.1,608.7 L425.8,607.7 L426.7,606.7 Z" fill="#fff" stroke="#000" stroke-width="1.5"/>
<path d="M432.7,601.9 L434.8,604.1 L424.1,614.8 L421.9,612.7 Z" fill="#fff" stroke="none"/>
<path d="M432.7,601.9 L434.8,604.1" fill="none" stroke="#000" stroke-width="1.5"/>
<path d="M424.1,614.8 L421.9,612.7" fill="none" stroke="#000" stroke-width="1.5"/>
<path d="M424.6,604.6 L425.6,603.7 L426.6,602.9 L427.7,602.3 L428.7,601.8 L429.7,601.5 L430.6,601.3 L431.4,601.3 L432.1,601.5 L432.7,601.9 L433.1,602.5 L433.3,603.2 L433.3,604 L433.2,604.9 L432.8,605.9 L432.3,606.9 L431.7,608 L430.9,609 L430,610 L429,610.9 L428,611.7 L426.9,612.3 L425.9,612.8 L424.9,613.2 L424,613.3 L423.2,613.3 L422.5,613.1 L421.9,612.7 L421.5,612.1 L421.3,611.4 L421.3,610.6 L421.5,609.7 L421.8,608.7 L422.3,607.7 L422.9,606.6 L423.7,605.6 L424.6,604.6 Z" fill="#fff" stroke="#000" stroke-width="1.5"/>
<path d="M424.9,604.9 L425.8,604.1 L426.7,603.4 L427.6,602.8 L428.6,602.4 L429.4,602.1 L430.3,601.9 L431,602 L431.6,602.2 L432.1,602.5 L432.5,603 L432.6,603.6 L432.7,604.3 L432.5,605.2 L432.2,606.1 L431.8,607 L431.2,607.9 L430.5,608.8 L429.7,609.7 L428.8,610.5 L427.9,611.2 L427,611.8 L426.1,612.2 L425.2,612.5 L424.3,612.7 L423.6,612.6 L423,612.5 L422.5,612.1 L422.2,611.6 L422,611 L421.9,610.3 L422.1,609.4 L422.4,608.6 L422.8,607.6 L423.4,606.7 L424.1,605.8 L424.9,604.9 Z" fill="#fff" stroke="#000" stroke-width="1.5"/>
<path d="M420.8,591.2 L432.1,602.5 L422.5,612.1 L411.2,600.8 Z" fill="#fff" stroke="none"/>
<path d="M420.8,591.2 L432.1,602.5" fill="none" stroke="#000" stroke-width="1.5"/>
<path d="M422.5,612.1 L411.2,600.8" fill="none" stroke="#000" stroke-width="1.5"/>
<path d="M416.3,591.5 L427.6,602.8" fill="none" stroke="#000" stroke-width="1.35"/>
<path d="M411.5,596.3 L422.8,607.6" fill="none" stroke="#000" stroke-width="1.35"/>
<path d="M413.6,593.6 L414.5,592.8 L415.4,592.1 L416.3,591.5 L417.2,591.1 L418.1,590.8 L419,590.6 L419.7,590.7 L420.3,590.8 L420.8,591.2 L421.1,591.7 L421.3,592.3 L421.4,593 L421.2,593.9 L420.9,594.7 L420.5,595.7 L419.9,596.6 L419.2,597.5 L418.4,598.4 L417.5,599.2 L416.6,599.9 L415.7,600.5 L414.7,600.9 L413.9,601.2 L413,601.4 L412.3,601.3 L411.7,601.1 L411.2,600.8 L410.8,600.3 L410.7,599.7 L410.6,599 L410.8,598.1 L411.1,597.2 L411.5,596.3 L412.1,595.4 L412.8,594.5 L413.6,593.6 Z" fill="#fff" stroke="#000" stroke-width="1.5"/>
<path d="M551.4,574.6 L552,574.1 L552.5,573.6 L553.1,573.2 L553.6,572.9 L554.1,572.7 L554.7,572.6 L555.1,572.6 L555.5,572.7 L555.8,572.9 L556,573.2 L556.2,573.5 L556.2,574 L556.2,574.5 L556,575.1 L555.8,575.7 L555.4,576.3 L555,576.8 L554.6,577.4 L554,577.9 L553.5,578.4 L552.9,578.8 L552.4,579.1 L551.9,579.3 L551.3,579.4 L550.9,579.4 L550.5,579.3 L550.2,579.1 L550,578.8 L549.8,578.5 L549.8,578 L549.8,577.5 L550,576.9 L550.2,576.3 L550.6,575.7 L551,575.2 L551.4,574.6 Z" fill="#fff" stroke="#000" stroke-width="1.5"/>
<path d="M548.4,566.2 L555.8,572.9 L550.2,579.1 L542.8,572.4 Z" fill="#fff" stroke="none"/>
<path d="M548.4,566.2 L555.8,572.9" fill="none" stroke="#000" stroke-width="1.5"/>
<path d="M550.2,579.1 L542.8,572.4" fill="none" stroke="#000" stroke-width="1.5"/>
<path d="M554,571.2 L554.2,571.5 L554.3,572 L554.3,572.5 L554.2,573.1 L554,573.8 L553.7,574.4 L553.2,575.1 L552.7,575.7 L552.1,576.3 L551.5,576.8 L550.9,577.2 L550.3,577.5 L549.7,577.7 L549.1,577.7 L548.7,577.7 L548.3,577.4" fill="none" stroke="#000" stroke-width="1.6500000000000001"/>
<path d="M552.1,569.5 L552.3,569.9 L552.5,570.3 L552.5,570.8 L552.4,571.4 L552.1,572.1 L551.8,572.8 L551.4,573.4 L550.8,574.1 L550.3,574.6 L549.7,575.1 L549,575.6 L548.4,575.9 L547.8,576 L547.3,576.1 L546.8,576 L546.5,575.8" fill="none" stroke="#000" stroke-width="1.6500000000000001"/>
<path d="M550.2,567.9 L550.5,568.2 L550.6,568.6 L550.6,569.2 L550.5,569.8 L550.3,570.4 L549.9,571.1 L549.5,571.8 L549,572.4 L548.4,573 L547.8,573.5 L547.2,573.9 L546.5,574.2 L546,574.4 L545.4,574.4 L545,574.3 L544.6,574.1" fill="none" stroke="#000" stroke-width="1.6500000000000001"/>
<path d="M544,567.9 L544.5,567.4 L545.1,566.9 L545.6,566.5 L546.2,566.2 L546.7,566 L547.2,565.9 L547.7,565.9 L548.1,566 L548.4,566.2 L548.6,566.5 L548.7,566.9 L548.8,567.3 L548.7,567.8 L548.6,568.4 L548.3,569 L548,569.6 L547.6,570.2 L547.1,570.7 L546.6,571.2 L546.1,571.7 L545.5,572.1 L545,572.4 L544.4,572.6 L543.9,572.7 L543.5,572.7 L543.1,572.6 L542.8,572.4 L542.5,572.1 L542.4,571.8 L542.4,571.3 L542.4,570.8 L542.6,570.2 L542.8,569.7 L543.1,569.1 L543.5,568.5 L544,567.9 Z" fill="#fff" stroke="#000" stroke-width="1.5"/>
<path d="M542.7,566.8 L543.7,565.8 L544.7,565 L545.7,564.3 L546.7,563.7 L547.6,563.3 L548.6,563.1 L549.4,563.1 L550.1,563.3 L550.7,563.7 L551.1,564.2 L551.3,564.9 L551.4,565.7 L551.3,566.6 L551,567.6 L550.6,568.7 L550,569.8 L549.2,570.8 L548.4,571.9 L547.5,572.8 L546.5,573.6 L545.5,574.3 L544.5,574.9 L543.5,575.3 L542.6,575.5 L541.8,575.5 L541.1,575.3 L540.5,575 L540.1,574.4 L539.8,573.7 L539.8,572.9 L539.9,572 L540.1,571 L540.6,569.9 L541.2,568.9 L541.9,567.8 L542.7,566.8 Z" fill="#fff" stroke="#000" stroke-width="1.5"/>
<path d="M548.4,561.7 L550.7,563.7 L540.5,575 L538.3,572.9 Z" fill="#fff" stroke="none"/>
<path d="M548.4,561.7 L550.7,563.7" fill="none" stroke="#000" stroke-width="1.5"/>
<path d="M540.5,575 L538.3,572.9" fill="none" stroke="#000" stroke-width="1.5"/>
<path d="M540.5,564.8 L541.4,563.8 L542.4,563 L543.4,562.3 L544.4,561.7 L545.4,561.3 L546.3,561.1 L547.2,561.1 L547.9,561.3 L548.4,561.7 L548.8,562.2 L549.1,562.9 L549.2,563.7 L549,564.6 L548.8,565.6 L548.3,566.7 L547.7,567.8 L547,568.8 L546.2,569.8 L545.2,570.8 L544.3,571.6 L543.2,572.3 L542.2,572.9 L541.3,573.3 L540.3,573.5 L539.5,573.5 L538.8,573.3 L538.3,572.9 L537.8,572.4 L537.6,571.7 L537.5,570.9 L537.6,570 L537.9,569 L538.4,567.9 L538.9,566.8 L539.7,565.8 L540.5,564.8 Z" fill="#fff" stroke="#000" stroke-width="1.5"/>
<path d="M540.8,565 L541.6,564.2 L542.5,563.4 L543.4,562.8 L544.3,562.3 L545.2,562 L546,561.8 L546.8,561.8 L547.4,561.9 L547.9,562.2 L548.3,562.7 L548.5,563.3 L548.5,564.1 L548.4,564.9 L548.2,565.8 L547.8,566.7 L547.3,567.7 L546.6,568.7 L545.9,569.6 L545,570.4 L544.2,571.2 L543.3,571.8 L542.3,572.3 L541.5,572.6 L540.7,572.8 L539.9,572.8 L539.3,572.7 L538.8,572.4 L538.4,571.9 L538.2,571.3 L538.1,570.5 L538.2,569.7 L538.5,568.8 L538.9,567.9 L539.4,566.9 L540.1,565.9 L540.8,565 Z" fill="#fff" stroke="#000" stroke-width="1.5"/>
<path d="M536,551.5 L547.9,562.2 L538.8,572.4 L526.9,561.6 Z" fill="#fff" stroke="none"/>
<path d="M536,551.5 L547.9,562.2" fill="none" stroke="#000" stroke-width="1.5"/>
<path d="M538.8,572.4 L526.9,561.6" fill="none" stroke="#000" stroke-width="1.5"/>
<path d="M531.5,552.1 L543.4,562.8" fill="none" stroke="#000" stroke-width="1.35"/>
<path d="M527,557.1 L538.9,567.8" fill="none" stroke="#000" stroke-width="1.35"/>
<path d="M528.9,554.3 L529.8,553.5 L530.6,552.7 L531.5,552.1 L532.4,551.6 L533.3,551.3 L534.1,551.1 L534.9,551.1 L535.5,551.2 L536,551.5 L536.4,552 L536.6,552.6 L536.7,553.4 L536.6,554.2 L536.3,555.1 L535.9,556 L535.4,557 L534.7,558 L534,558.9 L533.1,559.7 L532.3,560.5 L531.4,561.1 L530.5,561.6 L529.6,561.9 L528.8,562.1 L528,562.1 L527.4,562 L526.9,561.6 L526.5,561.2 L526.3,560.6 L526.2,559.8 L526.3,559 L526.6,558.1 L527,557.2 L527.5,556.2 L528.2,555.2 L528.9,554.3 Z" fill="#fff" stroke="#000" stroke-width="1.5"/>
<path d="M765,483.4 L765.7,484.6 L766.2,485.9 L766.5,487.1 L766.8,488.2 L766.9,489.2 L766.8,490.2 L766.6,490.9 L766.3,491.5 L765.8,491.9 L765.2,492.1 L764.6,492.1 L763.8,491.9 L763,491.5 L762.1,490.9 L761.3,490.1 L760.4,489.1 L759.6,488 L758.9,486.9 L758.3,485.7 L757.8,484.5 L757.4,483.3 L757.2,482.1 L757.1,481.1 L757.1,480.2 L757.3,479.4 L757.7,478.8 L758.1,478.4 L758.7,478.2 L759.4,478.2 L760.2,478.4 L761,478.9 L761.8,479.5 L762.7,480.3 L763.5,481.2 L764.3,482.3 L765,483.4 Z" fill="#fff" stroke="#000" stroke-width="1.4"/>
<path d="M755.4,497.9 L765.8,491.9 L758.1,478.4 L747.7,484.3 Z" fill="#fff" stroke="none"/>
<path d="M755.4,497.9 L765.8,491.9" fill="none" stroke="#000" stroke-width="1.4"/>
<path d="M758.1,478.4 L747.7,484.3" fill="none" stroke="#000" stroke-width="1.4"/>
<path d="M756.1,493 L766.6,487" fill="none" stroke="#000" stroke-width="1.26"/>
<path d="M752.3,486.2 L762.7,480.3" fill="none" stroke="#000" stroke-width="1.26"/>
<path d="M754.6,489.4 L755.2,490.6 L755.7,491.8 L756.1,493 L756.4,494.1 L756.5,495.2 L756.4,496.1 L756.2,496.9 L755.9,497.5 L755.4,497.9 L754.8,498.1 L754.1,498.1 L753.4,497.8 L752.5,497.4 L751.7,496.8 L750.8,496 L750,495 L749.2,494 L748.5,492.8 L747.9,491.6 L747.4,490.4 L747,489.2 L746.7,488.1 L746.6,487 L746.7,486.1 L746.9,485.3 L747.2,484.7 L747.7,484.3 L748.3,484.1 L749,484.1 L749.7,484.4 L750.6,484.8 L751.4,485.4 L752.3,486.2 L753.1,487.1 L753.9,488.2 L754.6,489.4 Z" fill="#fff" stroke="#000" stroke-width="1.4"/>
<path d="M754.9,489.2 L755.5,490.5 L756.1,491.8 L756.5,493.2 L756.8,494.4 L756.9,495.5 L756.8,496.5 L756.6,497.4 L756.3,498 L755.7,498.5 L755.1,498.7 L754.4,498.7 L753.5,498.4 L752.6,498 L751.7,497.3 L750.8,496.4 L749.9,495.4 L749,494.2 L748.2,493 L747.5,491.7 L747,490.3 L746.6,489 L746.3,487.8 L746.2,486.6 L746.2,485.6 L746.5,484.8 L746.8,484.1 L747.3,483.7 L748,483.5 L748.7,483.5 L749.6,483.7 L750.5,484.2 L751.4,484.9 L752.3,485.8 L753.2,486.8 L754.1,487.9 L754.9,489.2 Z" fill="#fff" stroke="#000" stroke-width="1.4"/>
<path d="M753.1,500 L755.7,498.5 L747.3,483.7 L744.7,485.2 Z" fill="#fff" stroke="none"/>
<path d="M753.1,500 L755.7,498.5" fill="none" stroke="#000" stroke-width="1.4"/>
<path d="M747.3,483.7 L744.7,485.2" fill="none" stroke="#000" stroke-width="1.4"/>
<path d="M752.3,490.7 L752.9,492 L753.5,493.3 L753.9,494.6 L754.2,495.9 L754.3,497 L754.2,498 L754,498.9 L753.6,499.5 L753.1,500 L752.5,500.2 L751.7,500.2 L750.9,499.9 L750,499.4 L749.1,498.8 L748.2,497.9 L747.2,496.9 L746.4,495.7 L745.6,494.5 L744.9,493.1 L744.4,491.8 L744,490.5 L743.7,489.3 L743.6,488.1 L743.6,487.1 L743.9,486.3 L744.2,485.6 L744.7,485.2 L745.4,485 L746.1,485 L747,485.2 L747.9,485.7 L748.8,486.4 L749.7,487.2 L750.6,488.3 L751.5,489.4 L752.3,490.7 Z" fill="#fff" stroke="#000" stroke-width="1.4"/>
<path d="M750.6,491.6 L751,492.3 L751.2,493 L751.5,493.6 L751.6,494.2 L751.6,494.8 L751.6,495.3 L751.5,495.8 L751.3,496.1 L751.1,496.3 L750.7,496.4 L750.4,496.4 L749.9,496.3 L749.5,496.1 L749,495.7 L748.5,495.3 L748.1,494.7 L747.6,494.2 L747.3,493.5 L746.9,492.9 L746.6,492.2 L746.4,491.5 L746.3,490.9 L746.2,490.3 L746.3,489.8 L746.4,489.4 L746.6,489.1 L746.8,488.8 L747.1,488.7 L747.5,488.7 L747.9,488.9 L748.4,489.1 L748.9,489.4 L749.3,489.9 L749.8,490.4 L750.2,491 L750.6,491.6 Z" fill="#fff" stroke="#000" stroke-width="1.4"/>
<path d="M740.6,502.2 L751.1,496.3 L746.8,488.8 L736.4,494.8 Z" fill="#fff" stroke="none"/>
<path d="M740.6,502.2 L751.1,496.3" fill="none" stroke="#000" stroke-width="1.4"/>
<path d="M746.8,488.8 L736.4,494.8" fill="none" stroke="#000" stroke-width="1.4"/>
<path d="M738.5,493.6 L738.8,493.5 L739.3,493.5 L739.8,493.7 L740.3,494 L740.8,494.4 L741.3,495 L741.8,495.6 L742.3,496.4 L742.7,497.1 L743,497.9 L743.2,498.6 L743.3,499.3 L743.3,499.9 L743.2,500.4 L743,500.8 L742.7,501.1" fill="none" stroke="#000" stroke-width="1.54"/>
<path d="M740.5,492.4 L740.9,492.3 L741.4,492.3 L741.8,492.5 L742.4,492.8 L742.9,493.3 L743.4,493.8 L743.9,494.5 L744.4,495.2 L744.7,495.9 L745,496.7 L745.3,497.4 L745.4,498.1 L745.4,498.7 L745.3,499.2 L745.1,499.6 L744.8,499.9" fill="none" stroke="#000" stroke-width="1.54"/>
<path d="M742.6,491.2 L743,491.1 L743.4,491.1 L743.9,491.3 L744.4,491.6 L745,492.1 L745.5,492.6 L746,493.3 L746.4,494 L746.8,494.7 L747.1,495.5 L747.3,496.2 L747.5,496.9 L747.5,497.5 L747.4,498 L747.2,498.4 L746.9,498.7" fill="none" stroke="#000" stroke-width="1.54"/>
<path d="M744.7,490 L745.1,489.9 L745.5,489.9 L746,490.1 L746.5,490.4 L747.1,490.9 L747.6,491.4 L748.1,492.1 L748.5,492.8 L748.9,493.6 L749.2,494.3 L749.4,495 L749.5,495.7 L749.5,496.3 L749.5,496.8 L749.3,497.2 L749,497.5" fill="none" stroke="#000" stroke-width="1.54"/>
<path d="M740.2,497.5 L740.5,498.2 L740.8,498.9 L741,499.5 L741.2,500.2 L741.2,500.7 L741.2,501.3 L741.1,501.7 L740.9,502 L740.6,502.2 L740.3,502.3 L739.9,502.3 L739.5,502.2 L739,502 L738.6,501.6 L738.1,501.2 L737.6,500.7 L737.2,500.1 L736.8,499.5 L736.5,498.8 L736.2,498.1 L736,497.5 L735.8,496.8 L735.8,496.3 L735.8,495.7 L735.9,495.3 L736.1,495 L736.4,494.8 L736.7,494.7 L737.1,494.7 L737.5,494.8 L738,495 L738.4,495.4 L738.9,495.8 L739.4,496.3 L739.8,496.9 L740.2,497.5 Z" fill="#fff" stroke="#000" stroke-width="1.4"/>
<path d="M422.5,558 L422.5,589" fill="none" stroke="#000" stroke-width="2" stroke-linecap="round" stroke-linejoin="round"/>
<path d="M536.5,518 L536.5,548" fill="none" stroke="#000" stroke-width="2" stroke-linecap="round" stroke-linejoin="round"/>
<path d="M543.9,868 L552.5,868 L552.5,883 L543.9,883 Z" fill="#fff" stroke="#000" stroke-width="1.34" stroke-linejoin="round"/>
<path d="M543.9000000000001,869.8 Q548.2,872.6 552.5,869.8" fill="none" stroke="#000" stroke-width="1.2"/>
<path d="M543.9000000000001,872.8 Q548.2,875.6 552.5,872.8" fill="none" stroke="#000" stroke-width="1.2"/>
<path d="M543.9000000000001,875.8 Q548.2,878.6 552.5,875.8" fill="none" stroke="#000" stroke-width="1.2"/>
<path d="M543.9000000000001,878.8 Q548.2,881.6 552.5,878.8" fill="none" stroke="#000" stroke-width="1.2"/>
<ellipse cx="548.2" cy="868" rx="4.3" ry="1.6" transform="rotate(0 548.2 868)" fill="#fff" stroke="#000" stroke-width="1.34"/>
<path d="M540.2,884 L556.2,884 L556.2,897.5 L552.2,899.5 L544.2,899.5 L540.2,897.5 Z" fill="#fff" stroke="#000" stroke-width="1.46" stroke-linejoin="round"/>
<path d="M544.6,885 L544.6,899.5" fill="none" stroke="#000" stroke-width="1.12" stroke-linecap="round" stroke-linejoin="round"/>
<path d="M551.8,885 L551.8,899.5" fill="none" stroke="#000" stroke-width="1.12" stroke-linecap="round" stroke-linejoin="round"/>
<ellipse cx="548.2" cy="883" rx="10" ry="3.8" transform="rotate(0 548.2 883)" fill="#fff" stroke="#000" stroke-width="1.46"/>
<ellipse cx="548.2" cy="882" rx="5.3" ry="1.5" transform="rotate(0 548.2 882)" fill="none" stroke="#000" stroke-width="1.12"/>
<path d="M151.7,1102.5 L160.3,1102.5 L160.3,1116.8 L151.7,1116.8 Z" fill="#fff" stroke="#000" stroke-width="1.34" stroke-linejoin="round"/>
<path d="M151.7,1104.1599999999999 Q156,1106.9599999999998 160.3,1104.1599999999999" fill="none" stroke="#000" stroke-width="1.2"/>
<path d="M151.7,1107.02 Q156,1109.82 160.3,1107.02" fill="none" stroke="#000" stroke-width="1.2"/>
<path d="M151.7,1109.8799999999999 Q156,1112.6799999999998 160.3,1109.8799999999999" fill="none" stroke="#000" stroke-width="1.2"/>
<path d="M151.7,1112.74 Q156,1115.54 160.3,1112.74" fill="none" stroke="#000" stroke-width="1.2"/>
<ellipse cx="156" cy="1102.5" rx="4.3" ry="1.6" transform="rotate(0 156 1102.5)" fill="#fff" stroke="#000" stroke-width="1.34"/>
<path d="M148,1117.8 L164,1117.8 L164,1131 L160,1133 L152,1133 L148,1131 Z" fill="#fff" stroke="#000" stroke-width="1.46" stroke-linejoin="round"/>
<path d="M152.4,1118.8 L152.4,1133" fill="none" stroke="#000" stroke-width="1.12" stroke-linecap="round" stroke-linejoin="round"/>
<path d="M159.6,1118.8 L159.6,1133" fill="none" stroke="#000" stroke-width="1.12" stroke-linecap="round" stroke-linejoin="round"/>
<ellipse cx="156" cy="1116.8" rx="10" ry="3.8" transform="rotate(0 156 1116.8)" fill="#fff" stroke="#000" stroke-width="1.46"/>
<ellipse cx="156" cy="1115.8" rx="5.3" ry="1.5" transform="rotate(0 156 1115.8)" fill="none" stroke="#000" stroke-width="1.12"/>
<path d="M558.4,884 L586.6,884" fill="none" stroke="#000" stroke-width="2" stroke-linecap="round" stroke-linejoin="round"/>
<path d="M166.2,1117.5 L192.8,1117.5" fill="none" stroke="#000" stroke-width="2" stroke-linecap="round" stroke-linejoin="round"/>
<path d="M657.2,1052.4 L656.9,1051.7 L656.6,1051 L656.4,1050.3 L656.3,1049.6 L656.3,1049 L656.3,1048.5 L656.4,1048.1 L656.6,1047.7 L656.9,1047.5 L657.3,1047.4 L657.7,1047.4 L658.1,1047.6 L658.6,1047.8 L659,1048.2 L659.5,1048.7 L660,1049.3 L660.4,1049.9 L660.8,1050.6 L661.1,1051.3 L661.4,1052 L661.6,1052.7 L661.7,1053.4 L661.7,1054 L661.7,1054.5 L661.6,1054.9 L661.4,1055.3 L661.1,1055.5 L660.7,1055.6 L660.3,1055.6 L659.9,1055.4 L659.4,1055.2 L659,1054.8 L658.5,1054.3 L658,1053.7 L657.6,1053.1 L657.2,1052.4 Z" fill="#fff" stroke="#000" stroke-width="1.4"/>
<path d="M641.8,1055.3 L656.9,1047.5 L661.1,1055.5 L646,1063.3 Z" fill="#fff" stroke="none"/>
<path d="M641.8,1055.3 L656.9,1047.5" fill="none" stroke="#000" stroke-width="1.4"/>
<path d="M661.1,1055.5 L646,1063.3" fill="none" stroke="#000" stroke-width="1.4"/>
<path d="M653.9,1049.1 L654.3,1049 L654.8,1049 L655.3,1049.2 L655.8,1049.6 L656.3,1050.1 L656.8,1050.7 L657.3,1051.4 L657.8,1052.1 L658.1,1052.9 L658.4,1053.7 L658.6,1054.5 L658.7,1055.2 L658.7,1055.9 L658.6,1056.4 L658.4,1056.8 L658.1,1057.1" fill="none" stroke="#000" stroke-width="1.54"/>
<path d="M650.9,1050.6 L651.3,1050.5 L651.7,1050.6 L652.2,1050.8 L652.8,1051.1 L653.3,1051.6 L653.8,1052.2 L654.3,1052.9 L654.8,1053.7 L655.1,1054.5 L655.4,1055.3 L655.6,1056.1 L655.7,1056.8 L655.7,1057.4 L655.6,1058 L655.3,1058.4 L655,1058.6" fill="none" stroke="#000" stroke-width="1.54"/>
<path d="M647.9,1052.2 L648.3,1052.1 L648.7,1052.1 L649.2,1052.4 L649.8,1052.7 L650.3,1053.2 L650.8,1053.8 L651.3,1054.5 L651.7,1055.3 L652.1,1056.1 L652.4,1056.9 L652.6,1057.6 L652.7,1058.4 L652.7,1059 L652.5,1059.5 L652.3,1059.9 L652,1060.2" fill="none" stroke="#000" stroke-width="1.54"/>
<path d="M644.9,1053.8 L645.2,1053.7 L645.7,1053.7 L646.2,1053.9 L646.7,1054.3 L647.3,1054.8 L647.8,1055.4 L648.3,1056.1 L648.7,1056.8 L649.1,1057.6 L649.4,1058.4 L649.6,1059.2 L649.7,1059.9 L649.6,1060.6 L649.5,1061.1 L649.3,1061.5 L649,1061.8" fill="none" stroke="#000" stroke-width="1.54"/>
<path d="M642.1,1060.3 L641.8,1059.5 L641.5,1058.8 L641.3,1058.1 L641.2,1057.5 L641.2,1056.9 L641.2,1056.3 L641.3,1055.9 L641.6,1055.6 L641.8,1055.3 L642.2,1055.2 L642.6,1055.3 L643,1055.4 L643.5,1055.7 L644,1056 L644.4,1056.5 L644.9,1057.1 L645.3,1057.7 L645.7,1058.4 L646,1059.1 L646.3,1059.8 L646.5,1060.5 L646.6,1061.2 L646.6,1061.8 L646.6,1062.3 L646.5,1062.8 L646.3,1063.1 L646,1063.3 L645.6,1063.4 L645.2,1063.4 L644.8,1063.2 L644.3,1063 L643.9,1062.6 L643.4,1062.1 L642.9,1061.6 L642.5,1060.9 L642.1,1060.3 Z" fill="#fff" stroke="#000" stroke-width="1.4"/>
<path d="M640.4,1061.1 L639.7,1059.8 L639.2,1058.4 L638.8,1057 L638.6,1055.7 L638.5,1054.5 L638.6,1053.5 L638.9,1052.6 L639.3,1051.9 L639.9,1051.5 L640.5,1051.3 L641.3,1051.4 L642.2,1051.6 L643.1,1052.2 L644,1052.9 L644.9,1053.8 L645.8,1054.9 L646.7,1056.2 L647.4,1057.5 L648.1,1058.9 L648.6,1060.3 L649,1061.7 L649.2,1062.9 L649.3,1064.1 L649.2,1065.2 L648.9,1066 L648.5,1066.7 L648,1067.1 L647.3,1067.3 L646.5,1067.3 L645.7,1067 L644.7,1066.5 L643.8,1065.7 L642.9,1064.8 L642,1063.7 L641.1,1062.5 L640.4,1061.1 Z" fill="#fff" stroke="#000" stroke-width="1.4"/>
<path d="M637.2,1052.9 L639.9,1051.5 L648,1067.1 L645.3,1068.5 Z" fill="#fff" stroke="none"/>
<path d="M637.2,1052.9 L639.9,1051.5" fill="none" stroke="#000" stroke-width="1.4"/>
<path d="M648,1067.1 L645.3,1068.5" fill="none" stroke="#000" stroke-width="1.4"/>
<path d="M637.7,1062.5 L637.1,1061.1 L636.6,1059.7 L636.2,1058.4 L635.9,1057.1 L635.9,1055.9 L636,1054.8 L636.2,1054 L636.6,1053.3 L637.2,1052.9 L637.9,1052.7 L638.6,1052.7 L639.5,1053 L640.4,1053.5 L641.3,1054.3 L642.3,1055.2 L643.2,1056.3 L644,1057.6 L644.8,1058.9 L645.4,1060.3 L645.9,1061.7 L646.3,1063 L646.5,1064.3 L646.6,1065.5 L646.5,1066.6 L646.3,1067.4 L645.8,1068.1 L645.3,1068.5 L644.6,1068.7 L643.8,1068.7 L643,1068.4 L642.1,1067.9 L641.2,1067.1 L640.2,1066.2 L639.3,1065.1 L638.5,1063.9 L637.7,1062.5 Z" fill="#fff" stroke="#000" stroke-width="1.4"/>
<path d="M638.1,1062.3 L637.6,1061.1 L637.1,1059.9 L636.8,1058.6 L636.5,1057.5 L636.5,1056.4 L636.6,1055.5 L636.8,1054.7 L637.2,1054.2 L637.7,1053.8 L638.2,1053.6 L638.9,1053.6 L639.7,1053.9 L640.5,1054.4 L641.3,1055 L642.1,1055.8 L642.9,1056.8 L643.7,1057.9 L644.4,1059.1 L644.9,1060.3 L645.4,1061.6 L645.7,1062.8 L645.9,1063.9 L646,1065 L645.9,1065.9 L645.7,1066.7 L645.3,1067.2 L644.8,1067.6 L644.2,1067.8 L643.6,1067.8 L642.8,1067.5 L642,1067 L641.2,1066.4 L640.3,1065.6 L639.5,1064.6 L638.8,1063.5 L638.1,1062.3 Z" fill="#fff" stroke="#000" stroke-width="1.4"/>
<path d="M628.8,1058.4 L637.7,1053.8 L644.8,1067.6 L636,1072.2 Z" fill="#fff" stroke="none"/>
<path d="M628.8,1058.4 L637.7,1053.8" fill="none" stroke="#000" stroke-width="1.4"/>
<path d="M644.8,1067.6 L636,1072.2" fill="none" stroke="#000" stroke-width="1.4"/>
<path d="M627.9,1063.2 L636.7,1058.6" fill="none" stroke="#000" stroke-width="1.26"/>
<path d="M631.4,1070.2 L640.3,1065.6" fill="none" stroke="#000" stroke-width="1.26"/>
<path d="M629.2,1066.9 L628.7,1065.7 L628.2,1064.5 L627.9,1063.2 L627.7,1062.1 L627.6,1061 L627.7,1060.1 L627.9,1059.4 L628.3,1058.8 L628.8,1058.4 L629.4,1058.2 L630.1,1058.2 L630.8,1058.5 L631.6,1059 L632.4,1059.6 L633.3,1060.4 L634.1,1061.4 L634.8,1062.5 L635.5,1063.7 L636.1,1064.9 L636.5,1066.2 L636.9,1067.4 L637.1,1068.5 L637.1,1069.6 L637,1070.5 L636.8,1071.3 L636.4,1071.8 L636,1072.2 L635.4,1072.4 L634.7,1072.4 L633.9,1072.1 L633.1,1071.6 L632.3,1071 L631.5,1070.2 L630.7,1069.2 L629.9,1068.1 L629.2,1066.9 Z" fill="#fff" stroke="#000" stroke-width="1.4"/>
<path d="M631,1025.8 L631,1057" fill="none" stroke="#000" stroke-width="2" stroke-linecap="round" stroke-linejoin="round"/>
<path d="M787.2,942.7 C790.5,930.6 788.7,920.3 787.2,907.8 C786.5,902.2 784.1,898.2 781.4,893.3 C778.9,888.7 776.7,885 772.7,881.6 C769.1,878.5 765.6,876.7 761,875.8 C756.9,875 753.2,875.4 749.4,877.3 C746.4,878.8 743.9,881.2 743.6,884.5 C741.7,906.4 744.6,923.6 743.6,945.6 C743.5,947.1 742.2,948.2 740.7,948.5 C733,949.9 726.6,948.5 718.9,950 C715.5,950.7 712.5,951.7 710.2,954.3 C708,956.8 707.5,959.7 707.3,963 C706.5,974 706.1,982.6 707.3,993.5 C707.7,997.5 709.5,1000.3 711.6,1003.7 C713.7,1007.2 716,1009.5 718.9,1012.4 C720.8,1014.3 722.2,1016.1 724.7,1016.8 C726.3,1017.3 729.8,1016.7 729,1015.3 C726.1,1010.1 720.7,1008.6 717.4,1003.7 C715.3,1000.5 714.8,997.3 714.5,993.5 C713.8,985.7 714.3,979.5 714.5,971.7 C714.6,968.1 714.2,965.1 715.3,961.6 C715.9,959.9 717.1,958.3 718.9,958 C726.6,956.7 732.9,958.2 740.7,957.2 C743.5,956.8 746,956.3 748,954.3 C750,952.3 750.8,949.8 750.9,947 C751.8,925.6 748,908.7 750.9,887.4 C751.4,884 756.2,883.8 759.6,883.8 C763,883.8 765.8,885.2 768.3,887.4 C772.2,890.9 774.9,894.3 777,899.1 C779.2,904 779.5,908.3 780,913.6 C780.6,920.9 778.2,926.9 780,934 C781,937.9 786.1,946.6 787.2,942.7 Z" fill="#fff" stroke="#000" stroke-width="1.46" stroke-linejoin="round"/>
<path d="M721.8,1016.8 C724.3,1015.6 726.5,1013.4 729,1014.5 C744,1021.1 754.9,1027.9 768.3,1037.2 C770.5,1038.7 771.6,1041.3 771.5,1044 C771.4,1046.5 770,1048.5 768,1050 C766.4,1051.2 764.2,1051.6 762.5,1050.5 C747.2,1040.9 736.4,1031.9 721.8,1021.2 C720.9,1020.5 719.5,1020.1 719.5,1019 C719.5,1017.9 720.8,1017.3 721.8,1016.8 Z" fill="#fff" stroke="#000" stroke-width="1.46" stroke-linejoin="round"/>
<ellipse cx="762.8" cy="1043.2" rx="3.2" ry="2.6" transform="rotate(-20 762.8 1043.2)" fill="none" stroke="#000" stroke-width="1.23"/>
<path d="M724,1014 L767,1038.5" fill="none" stroke="#000" stroke-width="1.01" stroke-linecap="round" stroke-linejoin="round"/>
<path d="M775.6,936.9 C777.6,936.1 779.3,934.8 781.4,935.4 C783.4,936 784.8,937.8 785,939.8 C786.9,956.5 787.4,969.5 787.2,986.3 C787.2,988.2 786,989.8 784.3,990.6 C782.4,991.5 780.4,991.5 778.5,990.6 C775.9,989.3 773.8,987.5 772.7,984.8 C771.3,981.4 771.8,978.3 771.9,974.7 C772.3,961.6 772.8,951.4 774.1,938.3 C774.2,937.6 774.9,937.2 775.6,936.9 Z" fill="#fff" stroke="#000" stroke-width="1.46" stroke-linejoin="round"/>
<path d="M781.4,935.4 L784,985" fill="none" stroke="#000" stroke-width="1.01" stroke-linecap="round" stroke-linejoin="round"/>
<ellipse cx="778.5" cy="982.6" rx="3" ry="2.6" transform="rotate(0 778.5 982.6)" fill="none" stroke="#000" stroke-width="1.23"/>
<path d="M773,986.5 L700,1027 L659.5,1051" fill="none" stroke="#000" stroke-width="1.34" stroke-linecap="round" stroke-linejoin="round"/>
<path d="M762,847.6 L762,875.2" fill="none" stroke="#000" stroke-width="2" stroke-linecap="round" stroke-linejoin="round"/>
<path d="M155.6,925 L155.6,1075" fill="none" stroke="#000" stroke-width="1.1" stroke-dasharray="5,2.5"/>
<path d="M155.6,1075 L155.6,1102" fill="none" stroke="#000" stroke-width="1.23" stroke-linecap="round" stroke-linejoin="round"/>
<g id="labels">
<text class="s" transform="translate(844,166) scale(0.78,1)" letter-spacing="2.5">F2160</text>
<text class="t" transform="translate(478.5,229) scale(0.665,1)" letter-spacing="6.6">92015</text>
<text class="t" transform="translate(358.6,419.6) scale(0.665,1)" letter-spacing="6.6">34028A</text>
<text class="t" transform="translate(523.5,487.5) scale(0.665,1)" letter-spacing="6.6">92002</text>
<text class="t" transform="translate(738.3,447.6) scale(0.665,1)" letter-spacing="6.6">185</text>
<text class="t" transform="translate(793.3,474) scale(0.665,1)" letter-spacing="6.6">34028C</text>
<text class="t" transform="translate(523,514) scale(0.665,1)" letter-spacing="6.6">185</text>
<text class="t" transform="translate(409,554) scale(0.665,1)" letter-spacing="6.6">185</text>
<text class="t" transform="translate(219,570.8) scale(0.665,1)" letter-spacing="6.6">92015</text>
<text class="t" transform="translate(336.6,627.6) scale(0.665,1)" letter-spacing="6.6">34028</text>
<text class="t" transform="translate(184.6,780.6) scale(0.665,1)" letter-spacing="6.6">92002</text>
<text class="t" transform="translate(254,777.8) scale(0.665,1)" letter-spacing="6.6">185</text>
<text class="t" transform="translate(738,844.1) scale(0.665,1)" letter-spacing="6.6">55020</text>
<text class="t" transform="translate(588.4,889) scale(0.665,1)" letter-spacing="6.6">185A</text>
<text class="t" transform="translate(294.8,1061) scale(0.665,1)" letter-spacing="6.6">34028B</text>
<text class="t" transform="translate(618.5,1022.5) scale(0.665,1)" letter-spacing="6.6">130</text>
<text class="t" transform="translate(194.9,1121.6) scale(0.665,1)" letter-spacing="6.6">185A</text>
</g>
</svg>
</body></html>
